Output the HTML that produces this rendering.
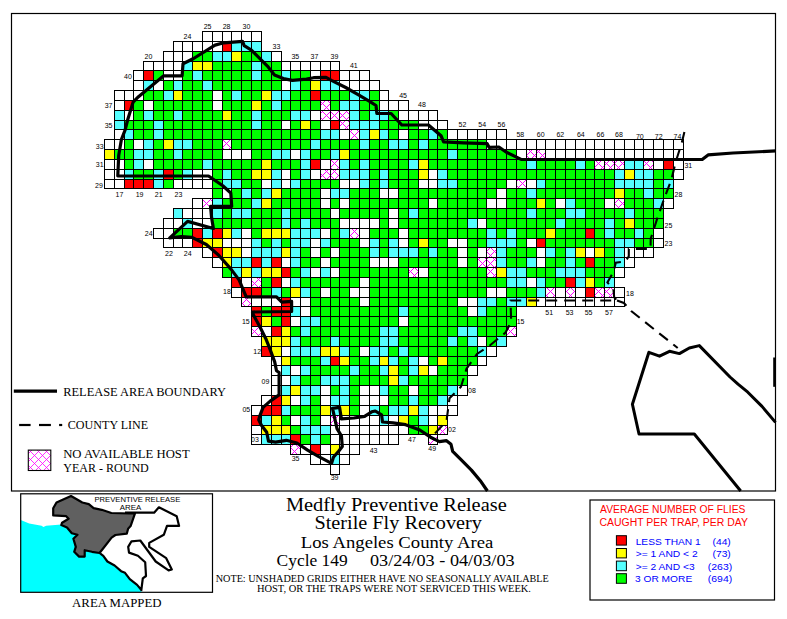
<!DOCTYPE html>
<html><head><meta charset="utf-8">
<style>
html,body{margin:0;padding:0;background:#fff;width:787px;height:619px;overflow:hidden}
svg{display:block}
.lb{font-family:"Liberation Sans",sans-serif;font-size:7px;text-anchor:middle;fill:#000}
.sr{font-family:"Liberation Serif",serif;fill:#000}
.ss{font-family:"Liberation Sans",sans-serif}
</style></head><body>
<svg width="787" height="619" viewBox="0 0 787 619">
<defs>
<clipPath id="hatchclip"><rect x="28.3" y="450.1" width="22.5" height="20.4"/></clipPath>
</defs>
<rect x="0" y="0" width="787" height="619" fill="#fff"/>
<g shape-rendering="crispEdges">
<rect x="222.18" y="41.34" width="9.807" height="9.838" fill="#ff0000"/>
<rect x="231.99" y="41.34" width="9.807" height="9.838" fill="#55ffff"/>
<rect x="241.80" y="41.34" width="9.807" height="9.838" fill="#55ffff"/>
<rect x="251.61" y="41.34" width="9.807" height="9.838" fill="#55ffff"/>
<rect x="192.76" y="51.18" width="9.807" height="9.838" fill="#00ff00"/>
<rect x="202.57" y="51.18" width="9.807" height="9.838" fill="#00ff00"/>
<rect x="212.38" y="51.18" width="9.807" height="9.838" fill="#55ffff"/>
<rect x="222.18" y="51.18" width="9.807" height="9.838" fill="#55ffff"/>
<rect x="231.99" y="51.18" width="9.807" height="9.838" fill="#ffff00"/>
<rect x="241.80" y="51.18" width="9.807" height="9.838" fill="#00ff00"/>
<rect x="251.61" y="51.18" width="9.807" height="9.838" fill="#00ff00"/>
<rect x="261.41" y="51.18" width="9.807" height="9.838" fill="#55ffff"/>
<rect x="182.96" y="61.01" width="9.807" height="9.838" fill="#55ffff"/>
<rect x="192.76" y="61.01" width="9.807" height="9.838" fill="#ffff00"/>
<rect x="202.57" y="61.01" width="9.807" height="9.838" fill="#ffff00"/>
<rect x="212.38" y="61.01" width="9.807" height="9.838" fill="#00ff00"/>
<rect x="222.18" y="61.01" width="9.807" height="9.838" fill="#00ff00"/>
<rect x="231.99" y="61.01" width="9.807" height="9.838" fill="#00ff00"/>
<rect x="241.80" y="61.01" width="9.807" height="9.838" fill="#00ff00"/>
<rect x="251.61" y="61.01" width="9.807" height="9.838" fill="#55ffff"/>
<rect x="261.41" y="61.01" width="9.807" height="9.838" fill="#00ff00"/>
<rect x="271.22" y="61.01" width="9.807" height="9.838" fill="#00ff00"/>
<rect x="143.73" y="70.85" width="9.807" height="9.838" fill="#ff0000"/>
<rect x="153.53" y="70.85" width="9.807" height="9.838" fill="#00ff00"/>
<rect x="182.96" y="70.85" width="9.807" height="9.838" fill="#00ff00"/>
<rect x="192.76" y="70.85" width="9.807" height="9.838" fill="#55ffff"/>
<rect x="202.57" y="70.85" width="9.807" height="9.838" fill="#00ff00"/>
<rect x="212.38" y="70.85" width="9.807" height="9.838" fill="#00ff00"/>
<rect x="222.18" y="70.85" width="9.807" height="9.838" fill="#00ff00"/>
<rect x="231.99" y="70.85" width="9.807" height="9.838" fill="#00ff00"/>
<rect x="241.80" y="70.85" width="9.807" height="9.838" fill="#00ff00"/>
<rect x="251.61" y="70.85" width="9.807" height="9.838" fill="#55ffff"/>
<rect x="261.41" y="70.85" width="9.807" height="9.838" fill="#00ff00"/>
<rect x="271.22" y="70.85" width="9.807" height="9.838" fill="#00ff00"/>
<rect x="281.03" y="70.85" width="9.807" height="9.838" fill="#55ffff"/>
<rect x="290.83" y="70.85" width="9.807" height="9.838" fill="#00ff00"/>
<rect x="300.64" y="70.85" width="9.807" height="9.838" fill="#00ff00"/>
<rect x="320.25" y="70.85" width="9.807" height="9.838" fill="#ff0000"/>
<rect x="330.06" y="70.85" width="9.807" height="9.838" fill="#ff0000"/>
<rect x="143.73" y="80.69" width="9.807" height="9.838" fill="#55ffff"/>
<rect x="163.34" y="80.69" width="9.807" height="9.838" fill="#00ff00"/>
<rect x="173.15" y="80.69" width="9.807" height="9.838" fill="#55ffff"/>
<rect x="182.96" y="80.69" width="9.807" height="9.838" fill="#00ff00"/>
<rect x="192.76" y="80.69" width="9.807" height="9.838" fill="#00ff00"/>
<rect x="202.57" y="80.69" width="9.807" height="9.838" fill="#55ffff"/>
<rect x="212.38" y="80.69" width="9.807" height="9.838" fill="#00ff00"/>
<rect x="222.18" y="80.69" width="9.807" height="9.838" fill="#00ff00"/>
<rect x="231.99" y="80.69" width="9.807" height="9.838" fill="#00ff00"/>
<rect x="241.80" y="80.69" width="9.807" height="9.838" fill="#00ff00"/>
<rect x="251.61" y="80.69" width="9.807" height="9.838" fill="#00ff00"/>
<rect x="261.41" y="80.69" width="9.807" height="9.838" fill="#00ff00"/>
<rect x="271.22" y="80.69" width="9.807" height="9.838" fill="#00ff00"/>
<rect x="290.83" y="80.69" width="9.807" height="9.838" fill="#55ffff"/>
<rect x="300.64" y="80.69" width="9.807" height="9.838" fill="#00ff00"/>
<rect x="310.45" y="80.69" width="9.807" height="9.838" fill="#ffff00"/>
<rect x="320.25" y="80.69" width="9.807" height="9.838" fill="#55ffff"/>
<rect x="330.06" y="80.69" width="9.807" height="9.838" fill="#55ffff"/>
<rect x="143.73" y="90.53" width="9.807" height="9.838" fill="#00ff00"/>
<rect x="153.53" y="90.53" width="9.807" height="9.838" fill="#00ff00"/>
<rect x="163.34" y="90.53" width="9.807" height="9.838" fill="#55ffff"/>
<rect x="173.15" y="90.53" width="9.807" height="9.838" fill="#ffff00"/>
<rect x="182.96" y="90.53" width="9.807" height="9.838" fill="#00ff00"/>
<rect x="192.76" y="90.53" width="9.807" height="9.838" fill="#00ff00"/>
<rect x="202.57" y="90.53" width="9.807" height="9.838" fill="#00ff00"/>
<rect x="222.18" y="90.53" width="9.807" height="9.838" fill="#00ff00"/>
<rect x="231.99" y="90.53" width="9.807" height="9.838" fill="#55ffff"/>
<rect x="241.80" y="90.53" width="9.807" height="9.838" fill="#00ff00"/>
<rect x="251.61" y="90.53" width="9.807" height="9.838" fill="#00ff00"/>
<rect x="261.41" y="90.53" width="9.807" height="9.838" fill="#ffff00"/>
<rect x="271.22" y="90.53" width="9.807" height="9.838" fill="#55ffff"/>
<rect x="281.03" y="90.53" width="9.807" height="9.838" fill="#55ffff"/>
<rect x="290.83" y="90.53" width="9.807" height="9.838" fill="#00ff00"/>
<rect x="300.64" y="90.53" width="9.807" height="9.838" fill="#00ff00"/>
<rect x="310.45" y="90.53" width="9.807" height="9.838" fill="#ff0000"/>
<rect x="320.25" y="90.53" width="9.807" height="9.838" fill="#00ff00"/>
<rect x="330.06" y="90.53" width="9.807" height="9.838" fill="#00ff00"/>
<rect x="339.87" y="90.53" width="9.807" height="9.838" fill="#00ff00"/>
<rect x="349.68" y="90.53" width="9.807" height="9.838" fill="#55ffff"/>
<rect x="359.48" y="90.53" width="9.807" height="9.838" fill="#55ffff"/>
<rect x="369.29" y="90.53" width="9.807" height="9.838" fill="#00ff00"/>
<rect x="124.11" y="100.37" width="9.807" height="9.838" fill="#ff0000"/>
<rect x="133.92" y="100.37" width="9.807" height="9.838" fill="#00ff00"/>
<rect x="153.53" y="100.37" width="9.807" height="9.838" fill="#00ff00"/>
<rect x="163.34" y="100.37" width="9.807" height="9.838" fill="#00ff00"/>
<rect x="173.15" y="100.37" width="9.807" height="9.838" fill="#00ff00"/>
<rect x="182.96" y="100.37" width="9.807" height="9.838" fill="#00ff00"/>
<rect x="192.76" y="100.37" width="9.807" height="9.838" fill="#00ff00"/>
<rect x="202.57" y="100.37" width="9.807" height="9.838" fill="#00ff00"/>
<rect x="222.18" y="100.37" width="9.807" height="9.838" fill="#00ff00"/>
<rect x="231.99" y="100.37" width="9.807" height="9.838" fill="#00ff00"/>
<rect x="241.80" y="100.37" width="9.807" height="9.838" fill="#00ff00"/>
<rect x="251.61" y="100.37" width="9.807" height="9.838" fill="#ffff00"/>
<rect x="261.41" y="100.37" width="9.807" height="9.838" fill="#00ff00"/>
<rect x="271.22" y="100.37" width="9.807" height="9.838" fill="#55ffff"/>
<rect x="281.03" y="100.37" width="9.807" height="9.838" fill="#00ff00"/>
<rect x="290.83" y="100.37" width="9.807" height="9.838" fill="#00ff00"/>
<rect x="300.64" y="100.37" width="9.807" height="9.838" fill="#00ff00"/>
<rect x="310.45" y="100.37" width="9.807" height="9.838" fill="#00ff00"/>
<rect x="320.25" y="100.37" width="9.807" height="9.838" fill="#ffffff"/>
<rect x="330.06" y="100.37" width="9.807" height="9.838" fill="#00ff00"/>
<rect x="339.87" y="100.37" width="9.807" height="9.838" fill="#55ffff"/>
<rect x="349.68" y="100.37" width="9.807" height="9.838" fill="#55ffff"/>
<rect x="359.48" y="100.37" width="9.807" height="9.838" fill="#00ff00"/>
<rect x="369.29" y="100.37" width="9.807" height="9.838" fill="#00ff00"/>
<rect x="114.31" y="110.20" width="9.807" height="9.838" fill="#55ffff"/>
<rect x="133.92" y="110.20" width="9.807" height="9.838" fill="#00ff00"/>
<rect x="143.73" y="110.20" width="9.807" height="9.838" fill="#55ffff"/>
<rect x="153.53" y="110.20" width="9.807" height="9.838" fill="#00ff00"/>
<rect x="163.34" y="110.20" width="9.807" height="9.838" fill="#00ff00"/>
<rect x="173.15" y="110.20" width="9.807" height="9.838" fill="#55ffff"/>
<rect x="182.96" y="110.20" width="9.807" height="9.838" fill="#00ff00"/>
<rect x="192.76" y="110.20" width="9.807" height="9.838" fill="#00ff00"/>
<rect x="202.57" y="110.20" width="9.807" height="9.838" fill="#00ff00"/>
<rect x="212.38" y="110.20" width="9.807" height="9.838" fill="#00ff00"/>
<rect x="222.18" y="110.20" width="9.807" height="9.838" fill="#ffff00"/>
<rect x="231.99" y="110.20" width="9.807" height="9.838" fill="#00ff00"/>
<rect x="241.80" y="110.20" width="9.807" height="9.838" fill="#00ff00"/>
<rect x="251.61" y="110.20" width="9.807" height="9.838" fill="#55ffff"/>
<rect x="261.41" y="110.20" width="9.807" height="9.838" fill="#00ff00"/>
<rect x="271.22" y="110.20" width="9.807" height="9.838" fill="#00ff00"/>
<rect x="281.03" y="110.20" width="9.807" height="9.838" fill="#00ff00"/>
<rect x="290.83" y="110.20" width="9.807" height="9.838" fill="#55ffff"/>
<rect x="300.64" y="110.20" width="9.807" height="9.838" fill="#55ffff"/>
<rect x="320.25" y="110.20" width="9.807" height="9.838" fill="#ffffff"/>
<rect x="330.06" y="110.20" width="9.807" height="9.838" fill="#ffffff"/>
<rect x="339.87" y="110.20" width="9.807" height="9.838" fill="#ffffff"/>
<rect x="349.68" y="110.20" width="9.807" height="9.838" fill="#55ffff"/>
<rect x="359.48" y="110.20" width="9.807" height="9.838" fill="#00ff00"/>
<rect x="369.29" y="110.20" width="9.807" height="9.838" fill="#55ffff"/>
<rect x="379.10" y="110.20" width="9.807" height="9.838" fill="#55ffff"/>
<rect x="388.90" y="110.20" width="9.807" height="9.838" fill="#00ff00"/>
<rect x="114.31" y="120.04" width="9.807" height="9.838" fill="#55ffff"/>
<rect x="124.11" y="120.04" width="9.807" height="9.838" fill="#00ff00"/>
<rect x="133.92" y="120.04" width="9.807" height="9.838" fill="#00ff00"/>
<rect x="143.73" y="120.04" width="9.807" height="9.838" fill="#00ff00"/>
<rect x="153.53" y="120.04" width="9.807" height="9.838" fill="#55ffff"/>
<rect x="163.34" y="120.04" width="9.807" height="9.838" fill="#00ff00"/>
<rect x="173.15" y="120.04" width="9.807" height="9.838" fill="#00ff00"/>
<rect x="182.96" y="120.04" width="9.807" height="9.838" fill="#00ff00"/>
<rect x="192.76" y="120.04" width="9.807" height="9.838" fill="#00ff00"/>
<rect x="202.57" y="120.04" width="9.807" height="9.838" fill="#00ff00"/>
<rect x="212.38" y="120.04" width="9.807" height="9.838" fill="#00ff00"/>
<rect x="222.18" y="120.04" width="9.807" height="9.838" fill="#00ff00"/>
<rect x="231.99" y="120.04" width="9.807" height="9.838" fill="#00ff00"/>
<rect x="241.80" y="120.04" width="9.807" height="9.838" fill="#00ff00"/>
<rect x="251.61" y="120.04" width="9.807" height="9.838" fill="#55ffff"/>
<rect x="261.41" y="120.04" width="9.807" height="9.838" fill="#00ff00"/>
<rect x="271.22" y="120.04" width="9.807" height="9.838" fill="#00ff00"/>
<rect x="290.83" y="120.04" width="9.807" height="9.838" fill="#00ff00"/>
<rect x="300.64" y="120.04" width="9.807" height="9.838" fill="#ffff00"/>
<rect x="310.45" y="120.04" width="9.807" height="9.838" fill="#00ff00"/>
<rect x="330.06" y="120.04" width="9.807" height="9.838" fill="#ff0000"/>
<rect x="339.87" y="120.04" width="9.807" height="9.838" fill="#ffffff"/>
<rect x="349.68" y="120.04" width="9.807" height="9.838" fill="#55ffff"/>
<rect x="359.48" y="120.04" width="9.807" height="9.838" fill="#55ffff"/>
<rect x="369.29" y="120.04" width="9.807" height="9.838" fill="#55ffff"/>
<rect x="379.10" y="120.04" width="9.807" height="9.838" fill="#00ff00"/>
<rect x="388.90" y="120.04" width="9.807" height="9.838" fill="#00ff00"/>
<rect x="398.71" y="120.04" width="9.807" height="9.838" fill="#00ff00"/>
<rect x="408.52" y="120.04" width="9.807" height="9.838" fill="#00ff00"/>
<rect x="124.11" y="129.88" width="9.807" height="9.838" fill="#55ffff"/>
<rect x="133.92" y="129.88" width="9.807" height="9.838" fill="#00ff00"/>
<rect x="143.73" y="129.88" width="9.807" height="9.838" fill="#00ff00"/>
<rect x="153.53" y="129.88" width="9.807" height="9.838" fill="#55ffff"/>
<rect x="163.34" y="129.88" width="9.807" height="9.838" fill="#00ff00"/>
<rect x="173.15" y="129.88" width="9.807" height="9.838" fill="#00ff00"/>
<rect x="182.96" y="129.88" width="9.807" height="9.838" fill="#00ff00"/>
<rect x="192.76" y="129.88" width="9.807" height="9.838" fill="#00ff00"/>
<rect x="202.57" y="129.88" width="9.807" height="9.838" fill="#00ff00"/>
<rect x="212.38" y="129.88" width="9.807" height="9.838" fill="#00ff00"/>
<rect x="222.18" y="129.88" width="9.807" height="9.838" fill="#00ff00"/>
<rect x="231.99" y="129.88" width="9.807" height="9.838" fill="#00ff00"/>
<rect x="241.80" y="129.88" width="9.807" height="9.838" fill="#00ff00"/>
<rect x="251.61" y="129.88" width="9.807" height="9.838" fill="#00ff00"/>
<rect x="261.41" y="129.88" width="9.807" height="9.838" fill="#00ff00"/>
<rect x="271.22" y="129.88" width="9.807" height="9.838" fill="#00ff00"/>
<rect x="281.03" y="129.88" width="9.807" height="9.838" fill="#00ff00"/>
<rect x="290.83" y="129.88" width="9.807" height="9.838" fill="#00ff00"/>
<rect x="300.64" y="129.88" width="9.807" height="9.838" fill="#00ff00"/>
<rect x="310.45" y="129.88" width="9.807" height="9.838" fill="#00ff00"/>
<rect x="320.25" y="129.88" width="9.807" height="9.838" fill="#55ffff"/>
<rect x="330.06" y="129.88" width="9.807" height="9.838" fill="#55ffff"/>
<rect x="349.68" y="129.88" width="9.807" height="9.838" fill="#ffffff"/>
<rect x="359.48" y="129.88" width="9.807" height="9.838" fill="#55ffff"/>
<rect x="369.29" y="129.88" width="9.807" height="9.838" fill="#ffff00"/>
<rect x="379.10" y="129.88" width="9.807" height="9.838" fill="#55ffff"/>
<rect x="388.90" y="129.88" width="9.807" height="9.838" fill="#00ff00"/>
<rect x="408.52" y="129.88" width="9.807" height="9.838" fill="#00ff00"/>
<rect x="418.32" y="129.88" width="9.807" height="9.838" fill="#00ff00"/>
<rect x="428.13" y="129.88" width="9.807" height="9.838" fill="#55ffff"/>
<rect x="437.94" y="129.88" width="9.807" height="9.838" fill="#00ff00"/>
<rect x="124.11" y="139.72" width="9.807" height="9.838" fill="#00ff00"/>
<rect x="143.73" y="139.72" width="9.807" height="9.838" fill="#55ffff"/>
<rect x="153.53" y="139.72" width="9.807" height="9.838" fill="#00ff00"/>
<rect x="163.34" y="139.72" width="9.807" height="9.838" fill="#ffff00"/>
<rect x="173.15" y="139.72" width="9.807" height="9.838" fill="#55ffff"/>
<rect x="182.96" y="139.72" width="9.807" height="9.838" fill="#55ffff"/>
<rect x="192.76" y="139.72" width="9.807" height="9.838" fill="#00ff00"/>
<rect x="202.57" y="139.72" width="9.807" height="9.838" fill="#00ff00"/>
<rect x="212.38" y="139.72" width="9.807" height="9.838" fill="#00ff00"/>
<rect x="222.18" y="139.72" width="9.807" height="9.838" fill="#ffffff"/>
<rect x="231.99" y="139.72" width="9.807" height="9.838" fill="#00ff00"/>
<rect x="241.80" y="139.72" width="9.807" height="9.838" fill="#00ff00"/>
<rect x="251.61" y="139.72" width="9.807" height="9.838" fill="#00ff00"/>
<rect x="261.41" y="139.72" width="9.807" height="9.838" fill="#00ff00"/>
<rect x="271.22" y="139.72" width="9.807" height="9.838" fill="#00ff00"/>
<rect x="281.03" y="139.72" width="9.807" height="9.838" fill="#00ff00"/>
<rect x="290.83" y="139.72" width="9.807" height="9.838" fill="#00ff00"/>
<rect x="300.64" y="139.72" width="9.807" height="9.838" fill="#00ff00"/>
<rect x="310.45" y="139.72" width="9.807" height="9.838" fill="#55ffff"/>
<rect x="320.25" y="139.72" width="9.807" height="9.838" fill="#00ff00"/>
<rect x="330.06" y="139.72" width="9.807" height="9.838" fill="#00ff00"/>
<rect x="339.87" y="139.72" width="9.807" height="9.838" fill="#00ff00"/>
<rect x="349.68" y="139.72" width="9.807" height="9.838" fill="#00ff00"/>
<rect x="359.48" y="139.72" width="9.807" height="9.838" fill="#55ffff"/>
<rect x="369.29" y="139.72" width="9.807" height="9.838" fill="#00ff00"/>
<rect x="379.10" y="139.72" width="9.807" height="9.838" fill="#00ff00"/>
<rect x="388.90" y="139.72" width="9.807" height="9.838" fill="#55ffff"/>
<rect x="398.71" y="139.72" width="9.807" height="9.838" fill="#55ffff"/>
<rect x="408.52" y="139.72" width="9.807" height="9.838" fill="#00ff00"/>
<rect x="418.32" y="139.72" width="9.807" height="9.838" fill="#55ffff"/>
<rect x="428.13" y="139.72" width="9.807" height="9.838" fill="#00ff00"/>
<rect x="437.94" y="139.72" width="9.807" height="9.838" fill="#00ff00"/>
<rect x="447.75" y="139.72" width="9.807" height="9.838" fill="#00ff00"/>
<rect x="457.55" y="139.72" width="9.807" height="9.838" fill="#00ff00"/>
<rect x="467.36" y="139.72" width="9.807" height="9.838" fill="#00ff00"/>
<rect x="477.17" y="139.72" width="9.807" height="9.838" fill="#00ff00"/>
<rect x="104.50" y="149.56" width="9.807" height="9.838" fill="#ffff00"/>
<rect x="114.31" y="149.56" width="9.807" height="9.838" fill="#00ff00"/>
<rect x="124.11" y="149.56" width="9.807" height="9.838" fill="#00ff00"/>
<rect x="133.92" y="149.56" width="9.807" height="9.838" fill="#55ffff"/>
<rect x="143.73" y="149.56" width="9.807" height="9.838" fill="#55ffff"/>
<rect x="153.53" y="149.56" width="9.807" height="9.838" fill="#00ff00"/>
<rect x="163.34" y="149.56" width="9.807" height="9.838" fill="#00ff00"/>
<rect x="173.15" y="149.56" width="9.807" height="9.838" fill="#55ffff"/>
<rect x="182.96" y="149.56" width="9.807" height="9.838" fill="#00ff00"/>
<rect x="192.76" y="149.56" width="9.807" height="9.838" fill="#00ff00"/>
<rect x="202.57" y="149.56" width="9.807" height="9.838" fill="#00ff00"/>
<rect x="212.38" y="149.56" width="9.807" height="9.838" fill="#00ff00"/>
<rect x="251.61" y="149.56" width="9.807" height="9.838" fill="#00ff00"/>
<rect x="261.41" y="149.56" width="9.807" height="9.838" fill="#00ff00"/>
<rect x="271.22" y="149.56" width="9.807" height="9.838" fill="#55ffff"/>
<rect x="281.03" y="149.56" width="9.807" height="9.838" fill="#55ffff"/>
<rect x="300.64" y="149.56" width="9.807" height="9.838" fill="#55ffff"/>
<rect x="310.45" y="149.56" width="9.807" height="9.838" fill="#00ff00"/>
<rect x="320.25" y="149.56" width="9.807" height="9.838" fill="#00ff00"/>
<rect x="330.06" y="149.56" width="9.807" height="9.838" fill="#55ffff"/>
<rect x="339.87" y="149.56" width="9.807" height="9.838" fill="#ffff00"/>
<rect x="349.68" y="149.56" width="9.807" height="9.838" fill="#00ff00"/>
<rect x="359.48" y="149.56" width="9.807" height="9.838" fill="#00ff00"/>
<rect x="369.29" y="149.56" width="9.807" height="9.838" fill="#00ff00"/>
<rect x="379.10" y="149.56" width="9.807" height="9.838" fill="#00ff00"/>
<rect x="388.90" y="149.56" width="9.807" height="9.838" fill="#00ff00"/>
<rect x="398.71" y="149.56" width="9.807" height="9.838" fill="#00ff00"/>
<rect x="408.52" y="149.56" width="9.807" height="9.838" fill="#00ff00"/>
<rect x="418.32" y="149.56" width="9.807" height="9.838" fill="#00ff00"/>
<rect x="428.13" y="149.56" width="9.807" height="9.838" fill="#00ff00"/>
<rect x="437.94" y="149.56" width="9.807" height="9.838" fill="#00ff00"/>
<rect x="447.75" y="149.56" width="9.807" height="9.838" fill="#55ffff"/>
<rect x="457.55" y="149.56" width="9.807" height="9.838" fill="#00ff00"/>
<rect x="467.36" y="149.56" width="9.807" height="9.838" fill="#00ff00"/>
<rect x="477.17" y="149.56" width="9.807" height="9.838" fill="#00ff00"/>
<rect x="486.97" y="149.56" width="9.807" height="9.838" fill="#00ff00"/>
<rect x="496.78" y="149.56" width="9.807" height="9.838" fill="#00ff00"/>
<rect x="506.59" y="149.56" width="9.807" height="9.838" fill="#00ff00"/>
<rect x="526.20" y="149.56" width="9.807" height="9.838" fill="#ffffff"/>
<rect x="536.01" y="149.56" width="9.807" height="9.838" fill="#ffffff"/>
<rect x="124.11" y="159.39" width="9.807" height="9.838" fill="#00ff00"/>
<rect x="133.92" y="159.39" width="9.807" height="9.838" fill="#55ffff"/>
<rect x="153.53" y="159.39" width="9.807" height="9.838" fill="#00ff00"/>
<rect x="163.34" y="159.39" width="9.807" height="9.838" fill="#00ff00"/>
<rect x="173.15" y="159.39" width="9.807" height="9.838" fill="#00ff00"/>
<rect x="182.96" y="159.39" width="9.807" height="9.838" fill="#00ff00"/>
<rect x="192.76" y="159.39" width="9.807" height="9.838" fill="#00ff00"/>
<rect x="202.57" y="159.39" width="9.807" height="9.838" fill="#55ffff"/>
<rect x="212.38" y="159.39" width="9.807" height="9.838" fill="#00ff00"/>
<rect x="222.18" y="159.39" width="9.807" height="9.838" fill="#00ff00"/>
<rect x="231.99" y="159.39" width="9.807" height="9.838" fill="#00ff00"/>
<rect x="241.80" y="159.39" width="9.807" height="9.838" fill="#00ff00"/>
<rect x="251.61" y="159.39" width="9.807" height="9.838" fill="#00ff00"/>
<rect x="261.41" y="159.39" width="9.807" height="9.838" fill="#ffff00"/>
<rect x="271.22" y="159.39" width="9.807" height="9.838" fill="#00ff00"/>
<rect x="281.03" y="159.39" width="9.807" height="9.838" fill="#00ff00"/>
<rect x="290.83" y="159.39" width="9.807" height="9.838" fill="#00ff00"/>
<rect x="300.64" y="159.39" width="9.807" height="9.838" fill="#55ffff"/>
<rect x="310.45" y="159.39" width="9.807" height="9.838" fill="#ff0000"/>
<rect x="330.06" y="159.39" width="9.807" height="9.838" fill="#ffffff"/>
<rect x="339.87" y="159.39" width="9.807" height="9.838" fill="#55ffff"/>
<rect x="349.68" y="159.39" width="9.807" height="9.838" fill="#00ff00"/>
<rect x="359.48" y="159.39" width="9.807" height="9.838" fill="#55ffff"/>
<rect x="369.29" y="159.39" width="9.807" height="9.838" fill="#00ff00"/>
<rect x="379.10" y="159.39" width="9.807" height="9.838" fill="#00ff00"/>
<rect x="388.90" y="159.39" width="9.807" height="9.838" fill="#00ff00"/>
<rect x="398.71" y="159.39" width="9.807" height="9.838" fill="#00ff00"/>
<rect x="408.52" y="159.39" width="9.807" height="9.838" fill="#55ffff"/>
<rect x="418.32" y="159.39" width="9.807" height="9.838" fill="#ffff00"/>
<rect x="428.13" y="159.39" width="9.807" height="9.838" fill="#00ff00"/>
<rect x="437.94" y="159.39" width="9.807" height="9.838" fill="#00ff00"/>
<rect x="447.75" y="159.39" width="9.807" height="9.838" fill="#00ff00"/>
<rect x="457.55" y="159.39" width="9.807" height="9.838" fill="#00ff00"/>
<rect x="467.36" y="159.39" width="9.807" height="9.838" fill="#00ff00"/>
<rect x="477.17" y="159.39" width="9.807" height="9.838" fill="#00ff00"/>
<rect x="486.97" y="159.39" width="9.807" height="9.838" fill="#00ff00"/>
<rect x="496.78" y="159.39" width="9.807" height="9.838" fill="#00ff00"/>
<rect x="506.59" y="159.39" width="9.807" height="9.838" fill="#00ff00"/>
<rect x="516.39" y="159.39" width="9.807" height="9.838" fill="#00ff00"/>
<rect x="526.20" y="159.39" width="9.807" height="9.838" fill="#55ffff"/>
<rect x="536.01" y="159.39" width="9.807" height="9.838" fill="#00ff00"/>
<rect x="545.82" y="159.39" width="9.807" height="9.838" fill="#00ff00"/>
<rect x="555.62" y="159.39" width="9.807" height="9.838" fill="#00ff00"/>
<rect x="565.43" y="159.39" width="9.807" height="9.838" fill="#00ff00"/>
<rect x="575.24" y="159.39" width="9.807" height="9.838" fill="#55ffff"/>
<rect x="585.04" y="159.39" width="9.807" height="9.838" fill="#00ff00"/>
<rect x="594.85" y="159.39" width="9.807" height="9.838" fill="#ffffff"/>
<rect x="604.66" y="159.39" width="9.807" height="9.838" fill="#ffffff"/>
<rect x="614.46" y="159.39" width="9.807" height="9.838" fill="#ffffff"/>
<rect x="624.27" y="159.39" width="9.807" height="9.838" fill="#55ffff"/>
<rect x="634.08" y="159.39" width="9.807" height="9.838" fill="#55ffff"/>
<rect x="643.88" y="159.39" width="9.807" height="9.838" fill="#ffffff"/>
<rect x="663.50" y="159.39" width="9.807" height="9.838" fill="#ff0000"/>
<rect x="124.11" y="169.23" width="9.807" height="9.838" fill="#55ffff"/>
<rect x="133.92" y="169.23" width="9.807" height="9.838" fill="#00ff00"/>
<rect x="143.73" y="169.23" width="9.807" height="9.838" fill="#00ff00"/>
<rect x="153.53" y="169.23" width="9.807" height="9.838" fill="#55ffff"/>
<rect x="163.34" y="169.23" width="9.807" height="9.838" fill="#ff0000"/>
<rect x="173.15" y="169.23" width="9.807" height="9.838" fill="#00ff00"/>
<rect x="182.96" y="169.23" width="9.807" height="9.838" fill="#55ffff"/>
<rect x="212.38" y="169.23" width="9.807" height="9.838" fill="#00ff00"/>
<rect x="222.18" y="169.23" width="9.807" height="9.838" fill="#55ffff"/>
<rect x="231.99" y="169.23" width="9.807" height="9.838" fill="#00ff00"/>
<rect x="241.80" y="169.23" width="9.807" height="9.838" fill="#00ff00"/>
<rect x="251.61" y="169.23" width="9.807" height="9.838" fill="#ffff00"/>
<rect x="261.41" y="169.23" width="9.807" height="9.838" fill="#ffff00"/>
<rect x="271.22" y="169.23" width="9.807" height="9.838" fill="#55ffff"/>
<rect x="290.83" y="169.23" width="9.807" height="9.838" fill="#00ff00"/>
<rect x="300.64" y="169.23" width="9.807" height="9.838" fill="#55ffff"/>
<rect x="320.25" y="169.23" width="9.807" height="9.838" fill="#ffffff"/>
<rect x="330.06" y="169.23" width="9.807" height="9.838" fill="#ffffff"/>
<rect x="339.87" y="169.23" width="9.807" height="9.838" fill="#55ffff"/>
<rect x="349.68" y="169.23" width="9.807" height="9.838" fill="#55ffff"/>
<rect x="359.48" y="169.23" width="9.807" height="9.838" fill="#55ffff"/>
<rect x="369.29" y="169.23" width="9.807" height="9.838" fill="#00ff00"/>
<rect x="379.10" y="169.23" width="9.807" height="9.838" fill="#55ffff"/>
<rect x="388.90" y="169.23" width="9.807" height="9.838" fill="#00ff00"/>
<rect x="398.71" y="169.23" width="9.807" height="9.838" fill="#00ff00"/>
<rect x="408.52" y="169.23" width="9.807" height="9.838" fill="#00ff00"/>
<rect x="418.32" y="169.23" width="9.807" height="9.838" fill="#ffff00"/>
<rect x="437.94" y="169.23" width="9.807" height="9.838" fill="#55ffff"/>
<rect x="447.75" y="169.23" width="9.807" height="9.838" fill="#00ff00"/>
<rect x="457.55" y="169.23" width="9.807" height="9.838" fill="#00ff00"/>
<rect x="467.36" y="169.23" width="9.807" height="9.838" fill="#00ff00"/>
<rect x="477.17" y="169.23" width="9.807" height="9.838" fill="#00ff00"/>
<rect x="486.97" y="169.23" width="9.807" height="9.838" fill="#00ff00"/>
<rect x="496.78" y="169.23" width="9.807" height="9.838" fill="#00ff00"/>
<rect x="506.59" y="169.23" width="9.807" height="9.838" fill="#00ff00"/>
<rect x="516.39" y="169.23" width="9.807" height="9.838" fill="#00ff00"/>
<rect x="526.20" y="169.23" width="9.807" height="9.838" fill="#00ff00"/>
<rect x="536.01" y="169.23" width="9.807" height="9.838" fill="#00ff00"/>
<rect x="545.82" y="169.23" width="9.807" height="9.838" fill="#00ff00"/>
<rect x="555.62" y="169.23" width="9.807" height="9.838" fill="#00ff00"/>
<rect x="565.43" y="169.23" width="9.807" height="9.838" fill="#00ff00"/>
<rect x="575.24" y="169.23" width="9.807" height="9.838" fill="#00ff00"/>
<rect x="585.04" y="169.23" width="9.807" height="9.838" fill="#00ff00"/>
<rect x="594.85" y="169.23" width="9.807" height="9.838" fill="#00ff00"/>
<rect x="604.66" y="169.23" width="9.807" height="9.838" fill="#00ff00"/>
<rect x="614.46" y="169.23" width="9.807" height="9.838" fill="#55ffff"/>
<rect x="624.27" y="169.23" width="9.807" height="9.838" fill="#ffff00"/>
<rect x="634.08" y="169.23" width="9.807" height="9.838" fill="#55ffff"/>
<rect x="643.88" y="169.23" width="9.807" height="9.838" fill="#55ffff"/>
<rect x="653.69" y="169.23" width="9.807" height="9.838" fill="#00ff00"/>
<rect x="663.50" y="169.23" width="9.807" height="9.838" fill="#00ff00"/>
<rect x="124.11" y="179.07" width="9.807" height="9.838" fill="#ff0000"/>
<rect x="133.92" y="179.07" width="9.807" height="9.838" fill="#ff0000"/>
<rect x="143.73" y="179.07" width="9.807" height="9.838" fill="#ff0000"/>
<rect x="153.53" y="179.07" width="9.807" height="9.838" fill="#55ffff"/>
<rect x="163.34" y="179.07" width="9.807" height="9.838" fill="#00ff00"/>
<rect x="212.38" y="179.07" width="9.807" height="9.838" fill="#00ff00"/>
<rect x="222.18" y="179.07" width="9.807" height="9.838" fill="#55ffff"/>
<rect x="231.99" y="179.07" width="9.807" height="9.838" fill="#55ffff"/>
<rect x="241.80" y="179.07" width="9.807" height="9.838" fill="#00ff00"/>
<rect x="251.61" y="179.07" width="9.807" height="9.838" fill="#00ff00"/>
<rect x="271.22" y="179.07" width="9.807" height="9.838" fill="#55ffff"/>
<rect x="290.83" y="179.07" width="9.807" height="9.838" fill="#55ffff"/>
<rect x="300.64" y="179.07" width="9.807" height="9.838" fill="#00ff00"/>
<rect x="310.45" y="179.07" width="9.807" height="9.838" fill="#00ff00"/>
<rect x="320.25" y="179.07" width="9.807" height="9.838" fill="#00ff00"/>
<rect x="330.06" y="179.07" width="9.807" height="9.838" fill="#00ff00"/>
<rect x="359.48" y="179.07" width="9.807" height="9.838" fill="#55ffff"/>
<rect x="369.29" y="179.07" width="9.807" height="9.838" fill="#00ff00"/>
<rect x="379.10" y="179.07" width="9.807" height="9.838" fill="#55ffff"/>
<rect x="388.90" y="179.07" width="9.807" height="9.838" fill="#00ff00"/>
<rect x="398.71" y="179.07" width="9.807" height="9.838" fill="#00ff00"/>
<rect x="408.52" y="179.07" width="9.807" height="9.838" fill="#00ff00"/>
<rect x="437.94" y="179.07" width="9.807" height="9.838" fill="#55ffff"/>
<rect x="447.75" y="179.07" width="9.807" height="9.838" fill="#55ffff"/>
<rect x="457.55" y="179.07" width="9.807" height="9.838" fill="#00ff00"/>
<rect x="467.36" y="179.07" width="9.807" height="9.838" fill="#00ff00"/>
<rect x="477.17" y="179.07" width="9.807" height="9.838" fill="#00ff00"/>
<rect x="486.97" y="179.07" width="9.807" height="9.838" fill="#00ff00"/>
<rect x="496.78" y="179.07" width="9.807" height="9.838" fill="#00ff00"/>
<rect x="516.39" y="179.07" width="9.807" height="9.838" fill="#ffffff"/>
<rect x="536.01" y="179.07" width="9.807" height="9.838" fill="#55ffff"/>
<rect x="545.82" y="179.07" width="9.807" height="9.838" fill="#00ff00"/>
<rect x="555.62" y="179.07" width="9.807" height="9.838" fill="#00ff00"/>
<rect x="565.43" y="179.07" width="9.807" height="9.838" fill="#00ff00"/>
<rect x="575.24" y="179.07" width="9.807" height="9.838" fill="#00ff00"/>
<rect x="585.04" y="179.07" width="9.807" height="9.838" fill="#00ff00"/>
<rect x="594.85" y="179.07" width="9.807" height="9.838" fill="#00ff00"/>
<rect x="604.66" y="179.07" width="9.807" height="9.838" fill="#00ff00"/>
<rect x="614.46" y="179.07" width="9.807" height="9.838" fill="#55ffff"/>
<rect x="624.27" y="179.07" width="9.807" height="9.838" fill="#55ffff"/>
<rect x="634.08" y="179.07" width="9.807" height="9.838" fill="#55ffff"/>
<rect x="643.88" y="179.07" width="9.807" height="9.838" fill="#55ffff"/>
<rect x="653.69" y="179.07" width="9.807" height="9.838" fill="#00ff00"/>
<rect x="663.50" y="179.07" width="9.807" height="9.838" fill="#55ffff"/>
<rect x="212.38" y="188.91" width="9.807" height="9.838" fill="#00ff00"/>
<rect x="231.99" y="188.91" width="9.807" height="9.838" fill="#00ff00"/>
<rect x="241.80" y="188.91" width="9.807" height="9.838" fill="#55ffff"/>
<rect x="251.61" y="188.91" width="9.807" height="9.838" fill="#00ff00"/>
<rect x="261.41" y="188.91" width="9.807" height="9.838" fill="#55ffff"/>
<rect x="271.22" y="188.91" width="9.807" height="9.838" fill="#ffff00"/>
<rect x="281.03" y="188.91" width="9.807" height="9.838" fill="#00ff00"/>
<rect x="290.83" y="188.91" width="9.807" height="9.838" fill="#00ff00"/>
<rect x="300.64" y="188.91" width="9.807" height="9.838" fill="#00ff00"/>
<rect x="310.45" y="188.91" width="9.807" height="9.838" fill="#00ff00"/>
<rect x="330.06" y="188.91" width="9.807" height="9.838" fill="#55ffff"/>
<rect x="339.87" y="188.91" width="9.807" height="9.838" fill="#55ffff"/>
<rect x="349.68" y="188.91" width="9.807" height="9.838" fill="#00ff00"/>
<rect x="359.48" y="188.91" width="9.807" height="9.838" fill="#00ff00"/>
<rect x="369.29" y="188.91" width="9.807" height="9.838" fill="#00ff00"/>
<rect x="398.71" y="188.91" width="9.807" height="9.838" fill="#00ff00"/>
<rect x="408.52" y="188.91" width="9.807" height="9.838" fill="#00ff00"/>
<rect x="418.32" y="188.91" width="9.807" height="9.838" fill="#00ff00"/>
<rect x="428.13" y="188.91" width="9.807" height="9.838" fill="#00ff00"/>
<rect x="437.94" y="188.91" width="9.807" height="9.838" fill="#00ff00"/>
<rect x="447.75" y="188.91" width="9.807" height="9.838" fill="#00ff00"/>
<rect x="457.55" y="188.91" width="9.807" height="9.838" fill="#00ff00"/>
<rect x="467.36" y="188.91" width="9.807" height="9.838" fill="#00ff00"/>
<rect x="477.17" y="188.91" width="9.807" height="9.838" fill="#00ff00"/>
<rect x="486.97" y="188.91" width="9.807" height="9.838" fill="#00ff00"/>
<rect x="506.59" y="188.91" width="9.807" height="9.838" fill="#00ff00"/>
<rect x="516.39" y="188.91" width="9.807" height="9.838" fill="#00ff00"/>
<rect x="526.20" y="188.91" width="9.807" height="9.838" fill="#55ffff"/>
<rect x="536.01" y="188.91" width="9.807" height="9.838" fill="#00ff00"/>
<rect x="545.82" y="188.91" width="9.807" height="9.838" fill="#00ff00"/>
<rect x="555.62" y="188.91" width="9.807" height="9.838" fill="#00ff00"/>
<rect x="565.43" y="188.91" width="9.807" height="9.838" fill="#00ff00"/>
<rect x="575.24" y="188.91" width="9.807" height="9.838" fill="#00ff00"/>
<rect x="585.04" y="188.91" width="9.807" height="9.838" fill="#00ff00"/>
<rect x="594.85" y="188.91" width="9.807" height="9.838" fill="#00ff00"/>
<rect x="604.66" y="188.91" width="9.807" height="9.838" fill="#00ff00"/>
<rect x="614.46" y="188.91" width="9.807" height="9.838" fill="#ffff00"/>
<rect x="624.27" y="188.91" width="9.807" height="9.838" fill="#00ff00"/>
<rect x="634.08" y="188.91" width="9.807" height="9.838" fill="#00ff00"/>
<rect x="643.88" y="188.91" width="9.807" height="9.838" fill="#55ffff"/>
<rect x="653.69" y="188.91" width="9.807" height="9.838" fill="#00ff00"/>
<rect x="663.50" y="188.91" width="9.807" height="9.838" fill="#00ff00"/>
<rect x="202.57" y="198.75" width="9.807" height="9.838" fill="#ffffff"/>
<rect x="212.38" y="198.75" width="9.807" height="9.838" fill="#55ffff"/>
<rect x="222.18" y="198.75" width="9.807" height="9.838" fill="#00ff00"/>
<rect x="231.99" y="198.75" width="9.807" height="9.838" fill="#00ff00"/>
<rect x="241.80" y="198.75" width="9.807" height="9.838" fill="#00ff00"/>
<rect x="251.61" y="198.75" width="9.807" height="9.838" fill="#55ffff"/>
<rect x="261.41" y="198.75" width="9.807" height="9.838" fill="#ffff00"/>
<rect x="271.22" y="198.75" width="9.807" height="9.838" fill="#00ff00"/>
<rect x="281.03" y="198.75" width="9.807" height="9.838" fill="#00ff00"/>
<rect x="290.83" y="198.75" width="9.807" height="9.838" fill="#00ff00"/>
<rect x="300.64" y="198.75" width="9.807" height="9.838" fill="#00ff00"/>
<rect x="310.45" y="198.75" width="9.807" height="9.838" fill="#00ff00"/>
<rect x="330.06" y="198.75" width="9.807" height="9.838" fill="#00ff00"/>
<rect x="349.68" y="198.75" width="9.807" height="9.838" fill="#00ff00"/>
<rect x="359.48" y="198.75" width="9.807" height="9.838" fill="#00ff00"/>
<rect x="369.29" y="198.75" width="9.807" height="9.838" fill="#00ff00"/>
<rect x="379.10" y="198.75" width="9.807" height="9.838" fill="#00ff00"/>
<rect x="388.90" y="198.75" width="9.807" height="9.838" fill="#00ff00"/>
<rect x="398.71" y="198.75" width="9.807" height="9.838" fill="#00ff00"/>
<rect x="408.52" y="198.75" width="9.807" height="9.838" fill="#00ff00"/>
<rect x="418.32" y="198.75" width="9.807" height="9.838" fill="#00ff00"/>
<rect x="437.94" y="198.75" width="9.807" height="9.838" fill="#00ff00"/>
<rect x="447.75" y="198.75" width="9.807" height="9.838" fill="#00ff00"/>
<rect x="457.55" y="198.75" width="9.807" height="9.838" fill="#00ff00"/>
<rect x="467.36" y="198.75" width="9.807" height="9.838" fill="#00ff00"/>
<rect x="477.17" y="198.75" width="9.807" height="9.838" fill="#00ff00"/>
<rect x="506.59" y="198.75" width="9.807" height="9.838" fill="#00ff00"/>
<rect x="516.39" y="198.75" width="9.807" height="9.838" fill="#00ff00"/>
<rect x="526.20" y="198.75" width="9.807" height="9.838" fill="#00ff00"/>
<rect x="536.01" y="198.75" width="9.807" height="9.838" fill="#ffff00"/>
<rect x="545.82" y="198.75" width="9.807" height="9.838" fill="#00ff00"/>
<rect x="565.43" y="198.75" width="9.807" height="9.838" fill="#55ffff"/>
<rect x="575.24" y="198.75" width="9.807" height="9.838" fill="#00ff00"/>
<rect x="585.04" y="198.75" width="9.807" height="9.838" fill="#00ff00"/>
<rect x="594.85" y="198.75" width="9.807" height="9.838" fill="#00ff00"/>
<rect x="614.46" y="198.75" width="9.807" height="9.838" fill="#ffffff"/>
<rect x="624.27" y="198.75" width="9.807" height="9.838" fill="#00ff00"/>
<rect x="634.08" y="198.75" width="9.807" height="9.838" fill="#00ff00"/>
<rect x="643.88" y="198.75" width="9.807" height="9.838" fill="#00ff00"/>
<rect x="653.69" y="198.75" width="9.807" height="9.838" fill="#55ffff"/>
<rect x="173.15" y="208.58" width="9.807" height="9.838" fill="#55ffff"/>
<rect x="212.38" y="208.58" width="9.807" height="9.838" fill="#55ffff"/>
<rect x="222.18" y="208.58" width="9.807" height="9.838" fill="#00ff00"/>
<rect x="231.99" y="208.58" width="9.807" height="9.838" fill="#55ffff"/>
<rect x="241.80" y="208.58" width="9.807" height="9.838" fill="#55ffff"/>
<rect x="251.61" y="208.58" width="9.807" height="9.838" fill="#00ff00"/>
<rect x="261.41" y="208.58" width="9.807" height="9.838" fill="#00ff00"/>
<rect x="271.22" y="208.58" width="9.807" height="9.838" fill="#00ff00"/>
<rect x="281.03" y="208.58" width="9.807" height="9.838" fill="#55ffff"/>
<rect x="290.83" y="208.58" width="9.807" height="9.838" fill="#00ff00"/>
<rect x="300.64" y="208.58" width="9.807" height="9.838" fill="#00ff00"/>
<rect x="310.45" y="208.58" width="9.807" height="9.838" fill="#00ff00"/>
<rect x="320.25" y="208.58" width="9.807" height="9.838" fill="#00ff00"/>
<rect x="339.87" y="208.58" width="9.807" height="9.838" fill="#00ff00"/>
<rect x="349.68" y="208.58" width="9.807" height="9.838" fill="#00ff00"/>
<rect x="359.48" y="208.58" width="9.807" height="9.838" fill="#00ff00"/>
<rect x="369.29" y="208.58" width="9.807" height="9.838" fill="#00ff00"/>
<rect x="379.10" y="208.58" width="9.807" height="9.838" fill="#00ff00"/>
<rect x="398.71" y="208.58" width="9.807" height="9.838" fill="#00ff00"/>
<rect x="408.52" y="208.58" width="9.807" height="9.838" fill="#55ffff"/>
<rect x="418.32" y="208.58" width="9.807" height="9.838" fill="#00ff00"/>
<rect x="428.13" y="208.58" width="9.807" height="9.838" fill="#00ff00"/>
<rect x="437.94" y="208.58" width="9.807" height="9.838" fill="#00ff00"/>
<rect x="447.75" y="208.58" width="9.807" height="9.838" fill="#00ff00"/>
<rect x="457.55" y="208.58" width="9.807" height="9.838" fill="#00ff00"/>
<rect x="467.36" y="208.58" width="9.807" height="9.838" fill="#00ff00"/>
<rect x="477.17" y="208.58" width="9.807" height="9.838" fill="#00ff00"/>
<rect x="486.97" y="208.58" width="9.807" height="9.838" fill="#00ff00"/>
<rect x="496.78" y="208.58" width="9.807" height="9.838" fill="#00ff00"/>
<rect x="506.59" y="208.58" width="9.807" height="9.838" fill="#00ff00"/>
<rect x="516.39" y="208.58" width="9.807" height="9.838" fill="#00ff00"/>
<rect x="526.20" y="208.58" width="9.807" height="9.838" fill="#55ffff"/>
<rect x="536.01" y="208.58" width="9.807" height="9.838" fill="#00ff00"/>
<rect x="545.82" y="208.58" width="9.807" height="9.838" fill="#00ff00"/>
<rect x="555.62" y="208.58" width="9.807" height="9.838" fill="#00ff00"/>
<rect x="565.43" y="208.58" width="9.807" height="9.838" fill="#55ffff"/>
<rect x="575.24" y="208.58" width="9.807" height="9.838" fill="#55ffff"/>
<rect x="585.04" y="208.58" width="9.807" height="9.838" fill="#00ff00"/>
<rect x="594.85" y="208.58" width="9.807" height="9.838" fill="#00ff00"/>
<rect x="604.66" y="208.58" width="9.807" height="9.838" fill="#00ff00"/>
<rect x="614.46" y="208.58" width="9.807" height="9.838" fill="#00ff00"/>
<rect x="624.27" y="208.58" width="9.807" height="9.838" fill="#55ffff"/>
<rect x="634.08" y="208.58" width="9.807" height="9.838" fill="#00ff00"/>
<rect x="643.88" y="208.58" width="9.807" height="9.838" fill="#00ff00"/>
<rect x="653.69" y="208.58" width="9.807" height="9.838" fill="#00ff00"/>
<rect x="182.96" y="218.42" width="9.807" height="9.838" fill="#55ffff"/>
<rect x="212.38" y="218.42" width="9.807" height="9.838" fill="#00ff00"/>
<rect x="222.18" y="218.42" width="9.807" height="9.838" fill="#00ff00"/>
<rect x="231.99" y="218.42" width="9.807" height="9.838" fill="#00ff00"/>
<rect x="241.80" y="218.42" width="9.807" height="9.838" fill="#00ff00"/>
<rect x="251.61" y="218.42" width="9.807" height="9.838" fill="#00ff00"/>
<rect x="261.41" y="218.42" width="9.807" height="9.838" fill="#00ff00"/>
<rect x="271.22" y="218.42" width="9.807" height="9.838" fill="#00ff00"/>
<rect x="281.03" y="218.42" width="9.807" height="9.838" fill="#55ffff"/>
<rect x="290.83" y="218.42" width="9.807" height="9.838" fill="#00ff00"/>
<rect x="300.64" y="218.42" width="9.807" height="9.838" fill="#55ffff"/>
<rect x="310.45" y="218.42" width="9.807" height="9.838" fill="#00ff00"/>
<rect x="320.25" y="218.42" width="9.807" height="9.838" fill="#00ff00"/>
<rect x="330.06" y="218.42" width="9.807" height="9.838" fill="#00ff00"/>
<rect x="379.10" y="218.42" width="9.807" height="9.838" fill="#00ff00"/>
<rect x="398.71" y="218.42" width="9.807" height="9.838" fill="#00ff00"/>
<rect x="408.52" y="218.42" width="9.807" height="9.838" fill="#00ff00"/>
<rect x="418.32" y="218.42" width="9.807" height="9.838" fill="#00ff00"/>
<rect x="428.13" y="218.42" width="9.807" height="9.838" fill="#00ff00"/>
<rect x="437.94" y="218.42" width="9.807" height="9.838" fill="#00ff00"/>
<rect x="447.75" y="218.42" width="9.807" height="9.838" fill="#00ff00"/>
<rect x="457.55" y="218.42" width="9.807" height="9.838" fill="#00ff00"/>
<rect x="467.36" y="218.42" width="9.807" height="9.838" fill="#55ffff"/>
<rect x="486.97" y="218.42" width="9.807" height="9.838" fill="#00ff00"/>
<rect x="496.78" y="218.42" width="9.807" height="9.838" fill="#00ff00"/>
<rect x="506.59" y="218.42" width="9.807" height="9.838" fill="#00ff00"/>
<rect x="516.39" y="218.42" width="9.807" height="9.838" fill="#00ff00"/>
<rect x="526.20" y="218.42" width="9.807" height="9.838" fill="#00ff00"/>
<rect x="536.01" y="218.42" width="9.807" height="9.838" fill="#00ff00"/>
<rect x="545.82" y="218.42" width="9.807" height="9.838" fill="#00ff00"/>
<rect x="555.62" y="218.42" width="9.807" height="9.838" fill="#55ffff"/>
<rect x="565.43" y="218.42" width="9.807" height="9.838" fill="#00ff00"/>
<rect x="575.24" y="218.42" width="9.807" height="9.838" fill="#00ff00"/>
<rect x="585.04" y="218.42" width="9.807" height="9.838" fill="#00ff00"/>
<rect x="594.85" y="218.42" width="9.807" height="9.838" fill="#00ff00"/>
<rect x="604.66" y="218.42" width="9.807" height="9.838" fill="#55ffff"/>
<rect x="614.46" y="218.42" width="9.807" height="9.838" fill="#00ff00"/>
<rect x="624.27" y="218.42" width="9.807" height="9.838" fill="#ffff00"/>
<rect x="634.08" y="218.42" width="9.807" height="9.838" fill="#00ff00"/>
<rect x="643.88" y="218.42" width="9.807" height="9.838" fill="#00ff00"/>
<rect x="653.69" y="218.42" width="9.807" height="9.838" fill="#00ff00"/>
<rect x="173.15" y="228.26" width="9.807" height="9.838" fill="#00ff00"/>
<rect x="182.96" y="228.26" width="9.807" height="9.838" fill="#00ff00"/>
<rect x="192.76" y="228.26" width="9.807" height="9.838" fill="#ff0000"/>
<rect x="202.57" y="228.26" width="9.807" height="9.838" fill="#55ffff"/>
<rect x="212.38" y="228.26" width="9.807" height="9.838" fill="#ff0000"/>
<rect x="222.18" y="228.26" width="9.807" height="9.838" fill="#ffff00"/>
<rect x="231.99" y="228.26" width="9.807" height="9.838" fill="#55ffff"/>
<rect x="251.61" y="228.26" width="9.807" height="9.838" fill="#00ff00"/>
<rect x="261.41" y="228.26" width="9.807" height="9.838" fill="#ffff00"/>
<rect x="271.22" y="228.26" width="9.807" height="9.838" fill="#ffff00"/>
<rect x="281.03" y="228.26" width="9.807" height="9.838" fill="#ffff00"/>
<rect x="290.83" y="228.26" width="9.807" height="9.838" fill="#55ffff"/>
<rect x="300.64" y="228.26" width="9.807" height="9.838" fill="#55ffff"/>
<rect x="310.45" y="228.26" width="9.807" height="9.838" fill="#55ffff"/>
<rect x="330.06" y="228.26" width="9.807" height="9.838" fill="#00ff00"/>
<rect x="339.87" y="228.26" width="9.807" height="9.838" fill="#55ffff"/>
<rect x="349.68" y="228.26" width="9.807" height="9.838" fill="#ffffff"/>
<rect x="369.29" y="228.26" width="9.807" height="9.838" fill="#00ff00"/>
<rect x="379.10" y="228.26" width="9.807" height="9.838" fill="#00ff00"/>
<rect x="388.90" y="228.26" width="9.807" height="9.838" fill="#00ff00"/>
<rect x="408.52" y="228.26" width="9.807" height="9.838" fill="#00ff00"/>
<rect x="418.32" y="228.26" width="9.807" height="9.838" fill="#00ff00"/>
<rect x="428.13" y="228.26" width="9.807" height="9.838" fill="#00ff00"/>
<rect x="437.94" y="228.26" width="9.807" height="9.838" fill="#00ff00"/>
<rect x="447.75" y="228.26" width="9.807" height="9.838" fill="#00ff00"/>
<rect x="457.55" y="228.26" width="9.807" height="9.838" fill="#00ff00"/>
<rect x="467.36" y="228.26" width="9.807" height="9.838" fill="#00ff00"/>
<rect x="477.17" y="228.26" width="9.807" height="9.838" fill="#00ff00"/>
<rect x="486.97" y="228.26" width="9.807" height="9.838" fill="#55ffff"/>
<rect x="496.78" y="228.26" width="9.807" height="9.838" fill="#00ff00"/>
<rect x="506.59" y="228.26" width="9.807" height="9.838" fill="#55ffff"/>
<rect x="516.39" y="228.26" width="9.807" height="9.838" fill="#00ff00"/>
<rect x="526.20" y="228.26" width="9.807" height="9.838" fill="#00ff00"/>
<rect x="536.01" y="228.26" width="9.807" height="9.838" fill="#00ff00"/>
<rect x="545.82" y="228.26" width="9.807" height="9.838" fill="#ffff00"/>
<rect x="555.62" y="228.26" width="9.807" height="9.838" fill="#00ff00"/>
<rect x="565.43" y="228.26" width="9.807" height="9.838" fill="#00ff00"/>
<rect x="575.24" y="228.26" width="9.807" height="9.838" fill="#00ff00"/>
<rect x="585.04" y="228.26" width="9.807" height="9.838" fill="#ff0000"/>
<rect x="594.85" y="228.26" width="9.807" height="9.838" fill="#00ff00"/>
<rect x="604.66" y="228.26" width="9.807" height="9.838" fill="#55ffff"/>
<rect x="614.46" y="228.26" width="9.807" height="9.838" fill="#00ff00"/>
<rect x="624.27" y="228.26" width="9.807" height="9.838" fill="#00ff00"/>
<rect x="634.08" y="228.26" width="9.807" height="9.838" fill="#55ffff"/>
<rect x="643.88" y="228.26" width="9.807" height="9.838" fill="#00ff00"/>
<rect x="192.76" y="238.10" width="9.807" height="9.838" fill="#ff0000"/>
<rect x="202.57" y="238.10" width="9.807" height="9.838" fill="#ffff00"/>
<rect x="212.38" y="238.10" width="9.807" height="9.838" fill="#ffff00"/>
<rect x="251.61" y="238.10" width="9.807" height="9.838" fill="#55ffff"/>
<rect x="261.41" y="238.10" width="9.807" height="9.838" fill="#00ff00"/>
<rect x="271.22" y="238.10" width="9.807" height="9.838" fill="#55ffff"/>
<rect x="281.03" y="238.10" width="9.807" height="9.838" fill="#00ff00"/>
<rect x="290.83" y="238.10" width="9.807" height="9.838" fill="#55ffff"/>
<rect x="300.64" y="238.10" width="9.807" height="9.838" fill="#55ffff"/>
<rect x="320.25" y="238.10" width="9.807" height="9.838" fill="#55ffff"/>
<rect x="330.06" y="238.10" width="9.807" height="9.838" fill="#00ff00"/>
<rect x="339.87" y="238.10" width="9.807" height="9.838" fill="#00ff00"/>
<rect x="349.68" y="238.10" width="9.807" height="9.838" fill="#00ff00"/>
<rect x="369.29" y="238.10" width="9.807" height="9.838" fill="#55ffff"/>
<rect x="379.10" y="238.10" width="9.807" height="9.838" fill="#00ff00"/>
<rect x="388.90" y="238.10" width="9.807" height="9.838" fill="#55ffff"/>
<rect x="408.52" y="238.10" width="9.807" height="9.838" fill="#00ff00"/>
<rect x="418.32" y="238.10" width="9.807" height="9.838" fill="#ffff00"/>
<rect x="428.13" y="238.10" width="9.807" height="9.838" fill="#00ff00"/>
<rect x="437.94" y="238.10" width="9.807" height="9.838" fill="#00ff00"/>
<rect x="467.36" y="238.10" width="9.807" height="9.838" fill="#00ff00"/>
<rect x="477.17" y="238.10" width="9.807" height="9.838" fill="#00ff00"/>
<rect x="486.97" y="238.10" width="9.807" height="9.838" fill="#55ffff"/>
<rect x="496.78" y="238.10" width="9.807" height="9.838" fill="#55ffff"/>
<rect x="506.59" y="238.10" width="9.807" height="9.838" fill="#55ffff"/>
<rect x="516.39" y="238.10" width="9.807" height="9.838" fill="#00ff00"/>
<rect x="536.01" y="238.10" width="9.807" height="9.838" fill="#ff0000"/>
<rect x="545.82" y="238.10" width="9.807" height="9.838" fill="#00ff00"/>
<rect x="555.62" y="238.10" width="9.807" height="9.838" fill="#00ff00"/>
<rect x="565.43" y="238.10" width="9.807" height="9.838" fill="#00ff00"/>
<rect x="575.24" y="238.10" width="9.807" height="9.838" fill="#00ff00"/>
<rect x="585.04" y="238.10" width="9.807" height="9.838" fill="#00ff00"/>
<rect x="594.85" y="238.10" width="9.807" height="9.838" fill="#00ff00"/>
<rect x="604.66" y="238.10" width="9.807" height="9.838" fill="#00ff00"/>
<rect x="614.46" y="238.10" width="9.807" height="9.838" fill="#55ffff"/>
<rect x="624.27" y="238.10" width="9.807" height="9.838" fill="#55ffff"/>
<rect x="634.08" y="238.10" width="9.807" height="9.838" fill="#00ff00"/>
<rect x="643.88" y="238.10" width="9.807" height="9.838" fill="#00ff00"/>
<rect x="212.38" y="247.94" width="9.807" height="9.838" fill="#ff0000"/>
<rect x="222.18" y="247.94" width="9.807" height="9.838" fill="#ffff00"/>
<rect x="231.99" y="247.94" width="9.807" height="9.838" fill="#ffff00"/>
<rect x="251.61" y="247.94" width="9.807" height="9.838" fill="#55ffff"/>
<rect x="261.41" y="247.94" width="9.807" height="9.838" fill="#55ffff"/>
<rect x="271.22" y="247.94" width="9.807" height="9.838" fill="#55ffff"/>
<rect x="281.03" y="247.94" width="9.807" height="9.838" fill="#ffff00"/>
<rect x="290.83" y="247.94" width="9.807" height="9.838" fill="#55ffff"/>
<rect x="300.64" y="247.94" width="9.807" height="9.838" fill="#00ff00"/>
<rect x="320.25" y="247.94" width="9.807" height="9.838" fill="#00ff00"/>
<rect x="339.87" y="247.94" width="9.807" height="9.838" fill="#00ff00"/>
<rect x="349.68" y="247.94" width="9.807" height="9.838" fill="#00ff00"/>
<rect x="359.48" y="247.94" width="9.807" height="9.838" fill="#00ff00"/>
<rect x="369.29" y="247.94" width="9.807" height="9.838" fill="#55ffff"/>
<rect x="379.10" y="247.94" width="9.807" height="9.838" fill="#00ff00"/>
<rect x="388.90" y="247.94" width="9.807" height="9.838" fill="#55ffff"/>
<rect x="398.71" y="247.94" width="9.807" height="9.838" fill="#55ffff"/>
<rect x="408.52" y="247.94" width="9.807" height="9.838" fill="#55ffff"/>
<rect x="418.32" y="247.94" width="9.807" height="9.838" fill="#00ff00"/>
<rect x="428.13" y="247.94" width="9.807" height="9.838" fill="#55ffff"/>
<rect x="437.94" y="247.94" width="9.807" height="9.838" fill="#00ff00"/>
<rect x="447.75" y="247.94" width="9.807" height="9.838" fill="#00ff00"/>
<rect x="467.36" y="247.94" width="9.807" height="9.838" fill="#00ff00"/>
<rect x="486.97" y="247.94" width="9.807" height="9.838" fill="#ffffff"/>
<rect x="496.78" y="247.94" width="9.807" height="9.838" fill="#55ffff"/>
<rect x="506.59" y="247.94" width="9.807" height="9.838" fill="#00ff00"/>
<rect x="516.39" y="247.94" width="9.807" height="9.838" fill="#00ff00"/>
<rect x="526.20" y="247.94" width="9.807" height="9.838" fill="#00ff00"/>
<rect x="545.82" y="247.94" width="9.807" height="9.838" fill="#55ffff"/>
<rect x="555.62" y="247.94" width="9.807" height="9.838" fill="#00ff00"/>
<rect x="565.43" y="247.94" width="9.807" height="9.838" fill="#55ffff"/>
<rect x="575.24" y="247.94" width="9.807" height="9.838" fill="#ffff00"/>
<rect x="594.85" y="247.94" width="9.807" height="9.838" fill="#ffff00"/>
<rect x="604.66" y="247.94" width="9.807" height="9.838" fill="#00ff00"/>
<rect x="614.46" y="247.94" width="9.807" height="9.838" fill="#55ffff"/>
<rect x="222.18" y="257.77" width="9.807" height="9.838" fill="#ffff00"/>
<rect x="231.99" y="257.77" width="9.807" height="9.838" fill="#55ffff"/>
<rect x="241.80" y="257.77" width="9.807" height="9.838" fill="#55ffff"/>
<rect x="251.61" y="257.77" width="9.807" height="9.838" fill="#ff0000"/>
<rect x="261.41" y="257.77" width="9.807" height="9.838" fill="#55ffff"/>
<rect x="271.22" y="257.77" width="9.807" height="9.838" fill="#ff0000"/>
<rect x="290.83" y="257.77" width="9.807" height="9.838" fill="#55ffff"/>
<rect x="300.64" y="257.77" width="9.807" height="9.838" fill="#00ff00"/>
<rect x="310.45" y="257.77" width="9.807" height="9.838" fill="#00ff00"/>
<rect x="330.06" y="257.77" width="9.807" height="9.838" fill="#00ff00"/>
<rect x="339.87" y="257.77" width="9.807" height="9.838" fill="#00ff00"/>
<rect x="349.68" y="257.77" width="9.807" height="9.838" fill="#00ff00"/>
<rect x="359.48" y="257.77" width="9.807" height="9.838" fill="#00ff00"/>
<rect x="398.71" y="257.77" width="9.807" height="9.838" fill="#00ff00"/>
<rect x="408.52" y="257.77" width="9.807" height="9.838" fill="#00ff00"/>
<rect x="418.32" y="257.77" width="9.807" height="9.838" fill="#00ff00"/>
<rect x="428.13" y="257.77" width="9.807" height="9.838" fill="#00ff00"/>
<rect x="437.94" y="257.77" width="9.807" height="9.838" fill="#00ff00"/>
<rect x="447.75" y="257.77" width="9.807" height="9.838" fill="#00ff00"/>
<rect x="467.36" y="257.77" width="9.807" height="9.838" fill="#00ff00"/>
<rect x="477.17" y="257.77" width="9.807" height="9.838" fill="#ffffff"/>
<rect x="486.97" y="257.77" width="9.807" height="9.838" fill="#ffffff"/>
<rect x="496.78" y="257.77" width="9.807" height="9.838" fill="#55ffff"/>
<rect x="506.59" y="257.77" width="9.807" height="9.838" fill="#00ff00"/>
<rect x="516.39" y="257.77" width="9.807" height="9.838" fill="#00ff00"/>
<rect x="526.20" y="257.77" width="9.807" height="9.838" fill="#55ffff"/>
<rect x="545.82" y="257.77" width="9.807" height="9.838" fill="#00ff00"/>
<rect x="555.62" y="257.77" width="9.807" height="9.838" fill="#00ff00"/>
<rect x="565.43" y="257.77" width="9.807" height="9.838" fill="#55ffff"/>
<rect x="575.24" y="257.77" width="9.807" height="9.838" fill="#00ff00"/>
<rect x="585.04" y="257.77" width="9.807" height="9.838" fill="#ff0000"/>
<rect x="594.85" y="257.77" width="9.807" height="9.838" fill="#00ff00"/>
<rect x="604.66" y="257.77" width="9.807" height="9.838" fill="#00ff00"/>
<rect x="614.46" y="257.77" width="9.807" height="9.838" fill="#55ffff"/>
<rect x="222.18" y="267.61" width="9.807" height="9.838" fill="#00ff00"/>
<rect x="231.99" y="267.61" width="9.807" height="9.838" fill="#55ffff"/>
<rect x="241.80" y="267.61" width="9.807" height="9.838" fill="#ffff00"/>
<rect x="251.61" y="267.61" width="9.807" height="9.838" fill="#55ffff"/>
<rect x="261.41" y="267.61" width="9.807" height="9.838" fill="#ffff00"/>
<rect x="271.22" y="267.61" width="9.807" height="9.838" fill="#ffff00"/>
<rect x="281.03" y="267.61" width="9.807" height="9.838" fill="#ff0000"/>
<rect x="290.83" y="267.61" width="9.807" height="9.838" fill="#00ff00"/>
<rect x="300.64" y="267.61" width="9.807" height="9.838" fill="#55ffff"/>
<rect x="320.25" y="267.61" width="9.807" height="9.838" fill="#55ffff"/>
<rect x="339.87" y="267.61" width="9.807" height="9.838" fill="#00ff00"/>
<rect x="349.68" y="267.61" width="9.807" height="9.838" fill="#00ff00"/>
<rect x="359.48" y="267.61" width="9.807" height="9.838" fill="#00ff00"/>
<rect x="369.29" y="267.61" width="9.807" height="9.838" fill="#00ff00"/>
<rect x="379.10" y="267.61" width="9.807" height="9.838" fill="#00ff00"/>
<rect x="388.90" y="267.61" width="9.807" height="9.838" fill="#00ff00"/>
<rect x="398.71" y="267.61" width="9.807" height="9.838" fill="#00ff00"/>
<rect x="408.52" y="267.61" width="9.807" height="9.838" fill="#ffffff"/>
<rect x="428.13" y="267.61" width="9.807" height="9.838" fill="#00ff00"/>
<rect x="437.94" y="267.61" width="9.807" height="9.838" fill="#00ff00"/>
<rect x="447.75" y="267.61" width="9.807" height="9.838" fill="#00ff00"/>
<rect x="457.55" y="267.61" width="9.807" height="9.838" fill="#00ff00"/>
<rect x="467.36" y="267.61" width="9.807" height="9.838" fill="#00ff00"/>
<rect x="477.17" y="267.61" width="9.807" height="9.838" fill="#00ff00"/>
<rect x="486.97" y="267.61" width="9.807" height="9.838" fill="#ffffff"/>
<rect x="496.78" y="267.61" width="9.807" height="9.838" fill="#ffff00"/>
<rect x="506.59" y="267.61" width="9.807" height="9.838" fill="#55ffff"/>
<rect x="516.39" y="267.61" width="9.807" height="9.838" fill="#55ffff"/>
<rect x="526.20" y="267.61" width="9.807" height="9.838" fill="#00ff00"/>
<rect x="536.01" y="267.61" width="9.807" height="9.838" fill="#00ff00"/>
<rect x="545.82" y="267.61" width="9.807" height="9.838" fill="#00ff00"/>
<rect x="555.62" y="267.61" width="9.807" height="9.838" fill="#55ffff"/>
<rect x="565.43" y="267.61" width="9.807" height="9.838" fill="#55ffff"/>
<rect x="575.24" y="267.61" width="9.807" height="9.838" fill="#55ffff"/>
<rect x="585.04" y="267.61" width="9.807" height="9.838" fill="#00ff00"/>
<rect x="594.85" y="267.61" width="9.807" height="9.838" fill="#00ff00"/>
<rect x="604.66" y="267.61" width="9.807" height="9.838" fill="#00ff00"/>
<rect x="231.99" y="277.45" width="9.807" height="9.838" fill="#ff0000"/>
<rect x="251.61" y="277.45" width="9.807" height="9.838" fill="#ffffff"/>
<rect x="261.41" y="277.45" width="9.807" height="9.838" fill="#00ff00"/>
<rect x="271.22" y="277.45" width="9.807" height="9.838" fill="#ff0000"/>
<rect x="290.83" y="277.45" width="9.807" height="9.838" fill="#55ffff"/>
<rect x="300.64" y="277.45" width="9.807" height="9.838" fill="#00ff00"/>
<rect x="310.45" y="277.45" width="9.807" height="9.838" fill="#00ff00"/>
<rect x="320.25" y="277.45" width="9.807" height="9.838" fill="#00ff00"/>
<rect x="330.06" y="277.45" width="9.807" height="9.838" fill="#00ff00"/>
<rect x="339.87" y="277.45" width="9.807" height="9.838" fill="#00ff00"/>
<rect x="349.68" y="277.45" width="9.807" height="9.838" fill="#00ff00"/>
<rect x="369.29" y="277.45" width="9.807" height="9.838" fill="#00ff00"/>
<rect x="379.10" y="277.45" width="9.807" height="9.838" fill="#00ff00"/>
<rect x="388.90" y="277.45" width="9.807" height="9.838" fill="#00ff00"/>
<rect x="398.71" y="277.45" width="9.807" height="9.838" fill="#00ff00"/>
<rect x="408.52" y="277.45" width="9.807" height="9.838" fill="#00ff00"/>
<rect x="418.32" y="277.45" width="9.807" height="9.838" fill="#00ff00"/>
<rect x="428.13" y="277.45" width="9.807" height="9.838" fill="#00ff00"/>
<rect x="437.94" y="277.45" width="9.807" height="9.838" fill="#00ff00"/>
<rect x="447.75" y="277.45" width="9.807" height="9.838" fill="#00ff00"/>
<rect x="457.55" y="277.45" width="9.807" height="9.838" fill="#00ff00"/>
<rect x="467.36" y="277.45" width="9.807" height="9.838" fill="#00ff00"/>
<rect x="477.17" y="277.45" width="9.807" height="9.838" fill="#00ff00"/>
<rect x="486.97" y="277.45" width="9.807" height="9.838" fill="#00ff00"/>
<rect x="496.78" y="277.45" width="9.807" height="9.838" fill="#00ff00"/>
<rect x="506.59" y="277.45" width="9.807" height="9.838" fill="#55ffff"/>
<rect x="516.39" y="277.45" width="9.807" height="9.838" fill="#55ffff"/>
<rect x="536.01" y="277.45" width="9.807" height="9.838" fill="#55ffff"/>
<rect x="545.82" y="277.45" width="9.807" height="9.838" fill="#00ff00"/>
<rect x="555.62" y="277.45" width="9.807" height="9.838" fill="#00ff00"/>
<rect x="565.43" y="277.45" width="9.807" height="9.838" fill="#ff0000"/>
<rect x="575.24" y="277.45" width="9.807" height="9.838" fill="#55ffff"/>
<rect x="585.04" y="277.45" width="9.807" height="9.838" fill="#ffff00"/>
<rect x="594.85" y="277.45" width="9.807" height="9.838" fill="#00ff00"/>
<rect x="604.66" y="277.45" width="9.807" height="9.838" fill="#55ffff"/>
<rect x="241.80" y="287.29" width="9.807" height="9.838" fill="#ff0000"/>
<rect x="251.61" y="287.29" width="9.807" height="9.838" fill="#ff0000"/>
<rect x="261.41" y="287.29" width="9.807" height="9.838" fill="#00ff00"/>
<rect x="271.22" y="287.29" width="9.807" height="9.838" fill="#55ffff"/>
<rect x="281.03" y="287.29" width="9.807" height="9.838" fill="#00ff00"/>
<rect x="290.83" y="287.29" width="9.807" height="9.838" fill="#ffff00"/>
<rect x="300.64" y="287.29" width="9.807" height="9.838" fill="#55ffff"/>
<rect x="310.45" y="287.29" width="9.807" height="9.838" fill="#00ff00"/>
<rect x="330.06" y="287.29" width="9.807" height="9.838" fill="#00ff00"/>
<rect x="339.87" y="287.29" width="9.807" height="9.838" fill="#00ff00"/>
<rect x="369.29" y="287.29" width="9.807" height="9.838" fill="#00ff00"/>
<rect x="379.10" y="287.29" width="9.807" height="9.838" fill="#00ff00"/>
<rect x="388.90" y="287.29" width="9.807" height="9.838" fill="#00ff00"/>
<rect x="398.71" y="287.29" width="9.807" height="9.838" fill="#00ff00"/>
<rect x="408.52" y="287.29" width="9.807" height="9.838" fill="#00ff00"/>
<rect x="418.32" y="287.29" width="9.807" height="9.838" fill="#00ff00"/>
<rect x="428.13" y="287.29" width="9.807" height="9.838" fill="#00ff00"/>
<rect x="437.94" y="287.29" width="9.807" height="9.838" fill="#00ff00"/>
<rect x="447.75" y="287.29" width="9.807" height="9.838" fill="#00ff00"/>
<rect x="457.55" y="287.29" width="9.807" height="9.838" fill="#00ff00"/>
<rect x="467.36" y="287.29" width="9.807" height="9.838" fill="#00ff00"/>
<rect x="477.17" y="287.29" width="9.807" height="9.838" fill="#00ff00"/>
<rect x="506.59" y="287.29" width="9.807" height="9.838" fill="#00ff00"/>
<rect x="516.39" y="287.29" width="9.807" height="9.838" fill="#00ff00"/>
<rect x="526.20" y="287.29" width="9.807" height="9.838" fill="#00ff00"/>
<rect x="536.01" y="287.29" width="9.807" height="9.838" fill="#55ffff"/>
<rect x="545.82" y="287.29" width="9.807" height="9.838" fill="#ffffff"/>
<rect x="565.43" y="287.29" width="9.807" height="9.838" fill="#ffffff"/>
<rect x="585.04" y="287.29" width="9.807" height="9.838" fill="#ff0000"/>
<rect x="594.85" y="287.29" width="9.807" height="9.838" fill="#ffffff"/>
<rect x="604.66" y="287.29" width="9.807" height="9.838" fill="#ffffff"/>
<rect x="241.80" y="297.13" width="9.807" height="9.838" fill="#ffffff"/>
<rect x="281.03" y="297.13" width="9.807" height="9.838" fill="#ff0000"/>
<rect x="310.45" y="297.13" width="9.807" height="9.838" fill="#00ff00"/>
<rect x="320.25" y="297.13" width="9.807" height="9.838" fill="#00ff00"/>
<rect x="330.06" y="297.13" width="9.807" height="9.838" fill="#00ff00"/>
<rect x="339.87" y="297.13" width="9.807" height="9.838" fill="#00ff00"/>
<rect x="349.68" y="297.13" width="9.807" height="9.838" fill="#00ff00"/>
<rect x="369.29" y="297.13" width="9.807" height="9.838" fill="#00ff00"/>
<rect x="379.10" y="297.13" width="9.807" height="9.838" fill="#00ff00"/>
<rect x="388.90" y="297.13" width="9.807" height="9.838" fill="#00ff00"/>
<rect x="398.71" y="297.13" width="9.807" height="9.838" fill="#00ff00"/>
<rect x="408.52" y="297.13" width="9.807" height="9.838" fill="#00ff00"/>
<rect x="418.32" y="297.13" width="9.807" height="9.838" fill="#00ff00"/>
<rect x="428.13" y="297.13" width="9.807" height="9.838" fill="#00ff00"/>
<rect x="437.94" y="297.13" width="9.807" height="9.838" fill="#00ff00"/>
<rect x="447.75" y="297.13" width="9.807" height="9.838" fill="#00ff00"/>
<rect x="477.17" y="297.13" width="9.807" height="9.838" fill="#55ffff"/>
<rect x="486.97" y="297.13" width="9.807" height="9.838" fill="#55ffff"/>
<rect x="496.78" y="297.13" width="9.807" height="9.838" fill="#00ff00"/>
<rect x="506.59" y="297.13" width="9.807" height="9.838" fill="#55ffff"/>
<rect x="516.39" y="297.13" width="9.807" height="9.838" fill="#55ffff"/>
<rect x="526.20" y="297.13" width="9.807" height="9.838" fill="#ffff00"/>
<rect x="251.61" y="306.96" width="9.807" height="9.838" fill="#ff0000"/>
<rect x="261.41" y="306.96" width="9.807" height="9.838" fill="#00ff00"/>
<rect x="271.22" y="306.96" width="9.807" height="9.838" fill="#ff0000"/>
<rect x="281.03" y="306.96" width="9.807" height="9.838" fill="#ff0000"/>
<rect x="290.83" y="306.96" width="9.807" height="9.838" fill="#55ffff"/>
<rect x="310.45" y="306.96" width="9.807" height="9.838" fill="#00ff00"/>
<rect x="320.25" y="306.96" width="9.807" height="9.838" fill="#00ff00"/>
<rect x="330.06" y="306.96" width="9.807" height="9.838" fill="#00ff00"/>
<rect x="339.87" y="306.96" width="9.807" height="9.838" fill="#00ff00"/>
<rect x="349.68" y="306.96" width="9.807" height="9.838" fill="#00ff00"/>
<rect x="359.48" y="306.96" width="9.807" height="9.838" fill="#00ff00"/>
<rect x="369.29" y="306.96" width="9.807" height="9.838" fill="#00ff00"/>
<rect x="379.10" y="306.96" width="9.807" height="9.838" fill="#00ff00"/>
<rect x="388.90" y="306.96" width="9.807" height="9.838" fill="#00ff00"/>
<rect x="398.71" y="306.96" width="9.807" height="9.838" fill="#55ffff"/>
<rect x="408.52" y="306.96" width="9.807" height="9.838" fill="#00ff00"/>
<rect x="418.32" y="306.96" width="9.807" height="9.838" fill="#00ff00"/>
<rect x="428.13" y="306.96" width="9.807" height="9.838" fill="#00ff00"/>
<rect x="437.94" y="306.96" width="9.807" height="9.838" fill="#00ff00"/>
<rect x="447.75" y="306.96" width="9.807" height="9.838" fill="#00ff00"/>
<rect x="457.55" y="306.96" width="9.807" height="9.838" fill="#00ff00"/>
<rect x="477.17" y="306.96" width="9.807" height="9.838" fill="#55ffff"/>
<rect x="486.97" y="306.96" width="9.807" height="9.838" fill="#00ff00"/>
<rect x="496.78" y="306.96" width="9.807" height="9.838" fill="#00ff00"/>
<rect x="506.59" y="306.96" width="9.807" height="9.838" fill="#00ff00"/>
<rect x="251.61" y="316.80" width="9.807" height="9.838" fill="#ff0000"/>
<rect x="261.41" y="316.80" width="9.807" height="9.838" fill="#ffff00"/>
<rect x="271.22" y="316.80" width="9.807" height="9.838" fill="#00ff00"/>
<rect x="281.03" y="316.80" width="9.807" height="9.838" fill="#ff0000"/>
<rect x="300.64" y="316.80" width="9.807" height="9.838" fill="#55ffff"/>
<rect x="310.45" y="316.80" width="9.807" height="9.838" fill="#55ffff"/>
<rect x="320.25" y="316.80" width="9.807" height="9.838" fill="#00ff00"/>
<rect x="330.06" y="316.80" width="9.807" height="9.838" fill="#00ff00"/>
<rect x="339.87" y="316.80" width="9.807" height="9.838" fill="#00ff00"/>
<rect x="349.68" y="316.80" width="9.807" height="9.838" fill="#00ff00"/>
<rect x="359.48" y="316.80" width="9.807" height="9.838" fill="#00ff00"/>
<rect x="369.29" y="316.80" width="9.807" height="9.838" fill="#00ff00"/>
<rect x="379.10" y="316.80" width="9.807" height="9.838" fill="#00ff00"/>
<rect x="388.90" y="316.80" width="9.807" height="9.838" fill="#00ff00"/>
<rect x="408.52" y="316.80" width="9.807" height="9.838" fill="#00ff00"/>
<rect x="418.32" y="316.80" width="9.807" height="9.838" fill="#00ff00"/>
<rect x="428.13" y="316.80" width="9.807" height="9.838" fill="#00ff00"/>
<rect x="437.94" y="316.80" width="9.807" height="9.838" fill="#00ff00"/>
<rect x="447.75" y="316.80" width="9.807" height="9.838" fill="#00ff00"/>
<rect x="457.55" y="316.80" width="9.807" height="9.838" fill="#00ff00"/>
<rect x="467.36" y="316.80" width="9.807" height="9.838" fill="#00ff00"/>
<rect x="477.17" y="316.80" width="9.807" height="9.838" fill="#00ff00"/>
<rect x="486.97" y="316.80" width="9.807" height="9.838" fill="#00ff00"/>
<rect x="496.78" y="316.80" width="9.807" height="9.838" fill="#00ff00"/>
<rect x="506.59" y="316.80" width="9.807" height="9.838" fill="#00ff00"/>
<rect x="251.61" y="326.64" width="9.807" height="9.838" fill="#ffffff"/>
<rect x="271.22" y="326.64" width="9.807" height="9.838" fill="#ff0000"/>
<rect x="281.03" y="326.64" width="9.807" height="9.838" fill="#ffff00"/>
<rect x="290.83" y="326.64" width="9.807" height="9.838" fill="#00ff00"/>
<rect x="300.64" y="326.64" width="9.807" height="9.838" fill="#55ffff"/>
<rect x="310.45" y="326.64" width="9.807" height="9.838" fill="#00ff00"/>
<rect x="320.25" y="326.64" width="9.807" height="9.838" fill="#00ff00"/>
<rect x="330.06" y="326.64" width="9.807" height="9.838" fill="#00ff00"/>
<rect x="339.87" y="326.64" width="9.807" height="9.838" fill="#00ff00"/>
<rect x="349.68" y="326.64" width="9.807" height="9.838" fill="#00ff00"/>
<rect x="359.48" y="326.64" width="9.807" height="9.838" fill="#00ff00"/>
<rect x="369.29" y="326.64" width="9.807" height="9.838" fill="#00ff00"/>
<rect x="379.10" y="326.64" width="9.807" height="9.838" fill="#55ffff"/>
<rect x="388.90" y="326.64" width="9.807" height="9.838" fill="#55ffff"/>
<rect x="398.71" y="326.64" width="9.807" height="9.838" fill="#00ff00"/>
<rect x="408.52" y="326.64" width="9.807" height="9.838" fill="#00ff00"/>
<rect x="418.32" y="326.64" width="9.807" height="9.838" fill="#00ff00"/>
<rect x="428.13" y="326.64" width="9.807" height="9.838" fill="#00ff00"/>
<rect x="437.94" y="326.64" width="9.807" height="9.838" fill="#00ff00"/>
<rect x="447.75" y="326.64" width="9.807" height="9.838" fill="#00ff00"/>
<rect x="457.55" y="326.64" width="9.807" height="9.838" fill="#55ffff"/>
<rect x="467.36" y="326.64" width="9.807" height="9.838" fill="#55ffff"/>
<rect x="477.17" y="326.64" width="9.807" height="9.838" fill="#00ff00"/>
<rect x="486.97" y="326.64" width="9.807" height="9.838" fill="#00ff00"/>
<rect x="496.78" y="326.64" width="9.807" height="9.838" fill="#00ff00"/>
<rect x="506.59" y="326.64" width="9.807" height="9.838" fill="#ffffff"/>
<rect x="261.41" y="336.48" width="9.807" height="9.838" fill="#ffff00"/>
<rect x="271.22" y="336.48" width="9.807" height="9.838" fill="#ffff00"/>
<rect x="281.03" y="336.48" width="9.807" height="9.838" fill="#ffff00"/>
<rect x="290.83" y="336.48" width="9.807" height="9.838" fill="#55ffff"/>
<rect x="300.64" y="336.48" width="9.807" height="9.838" fill="#00ff00"/>
<rect x="310.45" y="336.48" width="9.807" height="9.838" fill="#00ff00"/>
<rect x="320.25" y="336.48" width="9.807" height="9.838" fill="#00ff00"/>
<rect x="330.06" y="336.48" width="9.807" height="9.838" fill="#55ffff"/>
<rect x="339.87" y="336.48" width="9.807" height="9.838" fill="#00ff00"/>
<rect x="349.68" y="336.48" width="9.807" height="9.838" fill="#00ff00"/>
<rect x="359.48" y="336.48" width="9.807" height="9.838" fill="#00ff00"/>
<rect x="369.29" y="336.48" width="9.807" height="9.838" fill="#00ff00"/>
<rect x="379.10" y="336.48" width="9.807" height="9.838" fill="#55ffff"/>
<rect x="388.90" y="336.48" width="9.807" height="9.838" fill="#55ffff"/>
<rect x="398.71" y="336.48" width="9.807" height="9.838" fill="#00ff00"/>
<rect x="408.52" y="336.48" width="9.807" height="9.838" fill="#00ff00"/>
<rect x="418.32" y="336.48" width="9.807" height="9.838" fill="#00ff00"/>
<rect x="428.13" y="336.48" width="9.807" height="9.838" fill="#00ff00"/>
<rect x="437.94" y="336.48" width="9.807" height="9.838" fill="#00ff00"/>
<rect x="447.75" y="336.48" width="9.807" height="9.838" fill="#55ffff"/>
<rect x="457.55" y="336.48" width="9.807" height="9.838" fill="#00ff00"/>
<rect x="467.36" y="336.48" width="9.807" height="9.838" fill="#55ffff"/>
<rect x="486.97" y="336.48" width="9.807" height="9.838" fill="#00ff00"/>
<rect x="496.78" y="336.48" width="9.807" height="9.838" fill="#55ffff"/>
<rect x="261.41" y="346.32" width="9.807" height="9.838" fill="#ff0000"/>
<rect x="271.22" y="346.32" width="9.807" height="9.838" fill="#ffff00"/>
<rect x="290.83" y="346.32" width="9.807" height="9.838" fill="#55ffff"/>
<rect x="300.64" y="346.32" width="9.807" height="9.838" fill="#55ffff"/>
<rect x="310.45" y="346.32" width="9.807" height="9.838" fill="#55ffff"/>
<rect x="320.25" y="346.32" width="9.807" height="9.838" fill="#ffff00"/>
<rect x="330.06" y="346.32" width="9.807" height="9.838" fill="#ffff00"/>
<rect x="339.87" y="346.32" width="9.807" height="9.838" fill="#55ffff"/>
<rect x="349.68" y="346.32" width="9.807" height="9.838" fill="#00ff00"/>
<rect x="369.29" y="346.32" width="9.807" height="9.838" fill="#55ffff"/>
<rect x="379.10" y="346.32" width="9.807" height="9.838" fill="#55ffff"/>
<rect x="388.90" y="346.32" width="9.807" height="9.838" fill="#00ff00"/>
<rect x="398.71" y="346.32" width="9.807" height="9.838" fill="#55ffff"/>
<rect x="408.52" y="346.32" width="9.807" height="9.838" fill="#00ff00"/>
<rect x="418.32" y="346.32" width="9.807" height="9.838" fill="#00ff00"/>
<rect x="428.13" y="346.32" width="9.807" height="9.838" fill="#00ff00"/>
<rect x="437.94" y="346.32" width="9.807" height="9.838" fill="#00ff00"/>
<rect x="447.75" y="346.32" width="9.807" height="9.838" fill="#00ff00"/>
<rect x="457.55" y="346.32" width="9.807" height="9.838" fill="#00ff00"/>
<rect x="467.36" y="346.32" width="9.807" height="9.838" fill="#00ff00"/>
<rect x="477.17" y="346.32" width="9.807" height="9.838" fill="#55ffff"/>
<rect x="281.03" y="356.15" width="9.807" height="9.838" fill="#ffff00"/>
<rect x="290.83" y="356.15" width="9.807" height="9.838" fill="#00ff00"/>
<rect x="300.64" y="356.15" width="9.807" height="9.838" fill="#00ff00"/>
<rect x="310.45" y="356.15" width="9.807" height="9.838" fill="#00ff00"/>
<rect x="320.25" y="356.15" width="9.807" height="9.838" fill="#55ffff"/>
<rect x="330.06" y="356.15" width="9.807" height="9.838" fill="#ff0000"/>
<rect x="339.87" y="356.15" width="9.807" height="9.838" fill="#ffff00"/>
<rect x="349.68" y="356.15" width="9.807" height="9.838" fill="#00ff00"/>
<rect x="359.48" y="356.15" width="9.807" height="9.838" fill="#00ff00"/>
<rect x="369.29" y="356.15" width="9.807" height="9.838" fill="#55ffff"/>
<rect x="379.10" y="356.15" width="9.807" height="9.838" fill="#ffff00"/>
<rect x="388.90" y="356.15" width="9.807" height="9.838" fill="#55ffff"/>
<rect x="398.71" y="356.15" width="9.807" height="9.838" fill="#00ff00"/>
<rect x="408.52" y="356.15" width="9.807" height="9.838" fill="#55ffff"/>
<rect x="428.13" y="356.15" width="9.807" height="9.838" fill="#00ff00"/>
<rect x="437.94" y="356.15" width="9.807" height="9.838" fill="#ffff00"/>
<rect x="447.75" y="356.15" width="9.807" height="9.838" fill="#00ff00"/>
<rect x="457.55" y="356.15" width="9.807" height="9.838" fill="#00ff00"/>
<rect x="467.36" y="356.15" width="9.807" height="9.838" fill="#00ff00"/>
<rect x="281.03" y="365.99" width="9.807" height="9.838" fill="#55ffff"/>
<rect x="300.64" y="365.99" width="9.807" height="9.838" fill="#55ffff"/>
<rect x="310.45" y="365.99" width="9.807" height="9.838" fill="#00ff00"/>
<rect x="320.25" y="365.99" width="9.807" height="9.838" fill="#00ff00"/>
<rect x="330.06" y="365.99" width="9.807" height="9.838" fill="#00ff00"/>
<rect x="339.87" y="365.99" width="9.807" height="9.838" fill="#00ff00"/>
<rect x="349.68" y="365.99" width="9.807" height="9.838" fill="#55ffff"/>
<rect x="359.48" y="365.99" width="9.807" height="9.838" fill="#00ff00"/>
<rect x="369.29" y="365.99" width="9.807" height="9.838" fill="#00ff00"/>
<rect x="379.10" y="365.99" width="9.807" height="9.838" fill="#55ffff"/>
<rect x="388.90" y="365.99" width="9.807" height="9.838" fill="#ffff00"/>
<rect x="398.71" y="365.99" width="9.807" height="9.838" fill="#00ff00"/>
<rect x="408.52" y="365.99" width="9.807" height="9.838" fill="#55ffff"/>
<rect x="418.32" y="365.99" width="9.807" height="9.838" fill="#ffff00"/>
<rect x="437.94" y="365.99" width="9.807" height="9.838" fill="#00ff00"/>
<rect x="447.75" y="365.99" width="9.807" height="9.838" fill="#00ff00"/>
<rect x="457.55" y="365.99" width="9.807" height="9.838" fill="#00ff00"/>
<rect x="290.83" y="375.83" width="9.807" height="9.838" fill="#55ffff"/>
<rect x="300.64" y="375.83" width="9.807" height="9.838" fill="#00ff00"/>
<rect x="310.45" y="375.83" width="9.807" height="9.838" fill="#00ff00"/>
<rect x="320.25" y="375.83" width="9.807" height="9.838" fill="#55ffff"/>
<rect x="330.06" y="375.83" width="9.807" height="9.838" fill="#55ffff"/>
<rect x="339.87" y="375.83" width="9.807" height="9.838" fill="#55ffff"/>
<rect x="349.68" y="375.83" width="9.807" height="9.838" fill="#00ff00"/>
<rect x="359.48" y="375.83" width="9.807" height="9.838" fill="#00ff00"/>
<rect x="369.29" y="375.83" width="9.807" height="9.838" fill="#00ff00"/>
<rect x="379.10" y="375.83" width="9.807" height="9.838" fill="#00ff00"/>
<rect x="388.90" y="375.83" width="9.807" height="9.838" fill="#ffff00"/>
<rect x="398.71" y="375.83" width="9.807" height="9.838" fill="#55ffff"/>
<rect x="408.52" y="375.83" width="9.807" height="9.838" fill="#00ff00"/>
<rect x="418.32" y="375.83" width="9.807" height="9.838" fill="#00ff00"/>
<rect x="428.13" y="375.83" width="9.807" height="9.838" fill="#00ff00"/>
<rect x="437.94" y="375.83" width="9.807" height="9.838" fill="#00ff00"/>
<rect x="447.75" y="375.83" width="9.807" height="9.838" fill="#00ff00"/>
<rect x="457.55" y="375.83" width="9.807" height="9.838" fill="#00ff00"/>
<rect x="281.03" y="385.67" width="9.807" height="9.838" fill="#55ffff"/>
<rect x="290.83" y="385.67" width="9.807" height="9.838" fill="#ffff00"/>
<rect x="300.64" y="385.67" width="9.807" height="9.838" fill="#55ffff"/>
<rect x="310.45" y="385.67" width="9.807" height="9.838" fill="#55ffff"/>
<rect x="330.06" y="385.67" width="9.807" height="9.838" fill="#00ff00"/>
<rect x="339.87" y="385.67" width="9.807" height="9.838" fill="#55ffff"/>
<rect x="349.68" y="385.67" width="9.807" height="9.838" fill="#00ff00"/>
<rect x="379.10" y="385.67" width="9.807" height="9.838" fill="#55ffff"/>
<rect x="388.90" y="385.67" width="9.807" height="9.838" fill="#00ff00"/>
<rect x="398.71" y="385.67" width="9.807" height="9.838" fill="#00ff00"/>
<rect x="418.32" y="385.67" width="9.807" height="9.838" fill="#00ff00"/>
<rect x="428.13" y="385.67" width="9.807" height="9.838" fill="#00ff00"/>
<rect x="437.94" y="385.67" width="9.807" height="9.838" fill="#00ff00"/>
<rect x="447.75" y="385.67" width="9.807" height="9.838" fill="#55ffff"/>
<rect x="271.22" y="395.51" width="9.807" height="9.838" fill="#ff0000"/>
<rect x="281.03" y="395.51" width="9.807" height="9.838" fill="#ffff00"/>
<rect x="300.64" y="395.51" width="9.807" height="9.838" fill="#55ffff"/>
<rect x="310.45" y="395.51" width="9.807" height="9.838" fill="#00ff00"/>
<rect x="330.06" y="395.51" width="9.807" height="9.838" fill="#55ffff"/>
<rect x="339.87" y="395.51" width="9.807" height="9.838" fill="#55ffff"/>
<rect x="349.68" y="395.51" width="9.807" height="9.838" fill="#00ff00"/>
<rect x="388.90" y="395.51" width="9.807" height="9.838" fill="#00ff00"/>
<rect x="398.71" y="395.51" width="9.807" height="9.838" fill="#00ff00"/>
<rect x="408.52" y="395.51" width="9.807" height="9.838" fill="#55ffff"/>
<rect x="418.32" y="395.51" width="9.807" height="9.838" fill="#00ff00"/>
<rect x="428.13" y="395.51" width="9.807" height="9.838" fill="#00ff00"/>
<rect x="437.94" y="395.51" width="9.807" height="9.838" fill="#55ffff"/>
<rect x="261.41" y="405.34" width="9.807" height="9.838" fill="#ff0000"/>
<rect x="271.22" y="405.34" width="9.807" height="9.838" fill="#ff0000"/>
<rect x="281.03" y="405.34" width="9.807" height="9.838" fill="#55ffff"/>
<rect x="290.83" y="405.34" width="9.807" height="9.838" fill="#00ff00"/>
<rect x="300.64" y="405.34" width="9.807" height="9.838" fill="#00ff00"/>
<rect x="310.45" y="405.34" width="9.807" height="9.838" fill="#00ff00"/>
<rect x="320.25" y="405.34" width="9.807" height="9.838" fill="#ffff00"/>
<rect x="330.06" y="405.34" width="9.807" height="9.838" fill="#55ffff"/>
<rect x="339.87" y="405.34" width="9.807" height="9.838" fill="#ffff00"/>
<rect x="349.68" y="405.34" width="9.807" height="9.838" fill="#00ff00"/>
<rect x="369.29" y="405.34" width="9.807" height="9.838" fill="#55ffff"/>
<rect x="379.10" y="405.34" width="9.807" height="9.838" fill="#00ff00"/>
<rect x="388.90" y="405.34" width="9.807" height="9.838" fill="#55ffff"/>
<rect x="398.71" y="405.34" width="9.807" height="9.838" fill="#55ffff"/>
<rect x="408.52" y="405.34" width="9.807" height="9.838" fill="#ffff00"/>
<rect x="418.32" y="405.34" width="9.807" height="9.838" fill="#55ffff"/>
<rect x="251.61" y="415.18" width="9.807" height="9.838" fill="#ff0000"/>
<rect x="261.41" y="415.18" width="9.807" height="9.838" fill="#55ffff"/>
<rect x="271.22" y="415.18" width="9.807" height="9.838" fill="#ffff00"/>
<rect x="281.03" y="415.18" width="9.807" height="9.838" fill="#00ff00"/>
<rect x="300.64" y="415.18" width="9.807" height="9.838" fill="#55ffff"/>
<rect x="310.45" y="415.18" width="9.807" height="9.838" fill="#00ff00"/>
<rect x="330.06" y="415.18" width="9.807" height="9.838" fill="#ffffff"/>
<rect x="379.10" y="415.18" width="9.807" height="9.838" fill="#55ffff"/>
<rect x="398.71" y="415.18" width="9.807" height="9.838" fill="#ffff00"/>
<rect x="408.52" y="415.18" width="9.807" height="9.838" fill="#00ff00"/>
<rect x="418.32" y="415.18" width="9.807" height="9.838" fill="#55ffff"/>
<rect x="437.94" y="415.18" width="9.807" height="9.838" fill="#ffff00"/>
<rect x="261.41" y="425.02" width="9.807" height="9.838" fill="#ffff00"/>
<rect x="271.22" y="425.02" width="9.807" height="9.838" fill="#ffff00"/>
<rect x="281.03" y="425.02" width="9.807" height="9.838" fill="#ffff00"/>
<rect x="290.83" y="425.02" width="9.807" height="9.838" fill="#00ff00"/>
<rect x="300.64" y="425.02" width="9.807" height="9.838" fill="#55ffff"/>
<rect x="310.45" y="425.02" width="9.807" height="9.838" fill="#55ffff"/>
<rect x="320.25" y="425.02" width="9.807" height="9.838" fill="#55ffff"/>
<rect x="408.52" y="425.02" width="9.807" height="9.838" fill="#00ff00"/>
<rect x="418.32" y="425.02" width="9.807" height="9.838" fill="#00ff00"/>
<rect x="428.13" y="425.02" width="9.807" height="9.838" fill="#ffff00"/>
<rect x="437.94" y="425.02" width="9.807" height="9.838" fill="#ffffff"/>
<rect x="261.41" y="434.86" width="9.807" height="9.838" fill="#55ffff"/>
<rect x="271.22" y="434.86" width="9.807" height="9.838" fill="#55ffff"/>
<rect x="281.03" y="434.86" width="9.807" height="9.838" fill="#55ffff"/>
<rect x="290.83" y="434.86" width="9.807" height="9.838" fill="#ff0000"/>
<rect x="300.64" y="434.86" width="9.807" height="9.838" fill="#00ff00"/>
<rect x="310.45" y="434.86" width="9.807" height="9.838" fill="#55ffff"/>
<rect x="320.25" y="434.86" width="9.807" height="9.838" fill="#00ff00"/>
<rect x="428.13" y="434.86" width="9.807" height="9.838" fill="#ffffff"/>
<rect x="290.83" y="444.70" width="9.807" height="9.838" fill="#ffffff"/>
<rect x="310.45" y="444.70" width="9.807" height="9.838" fill="#ff0000"/>
<rect x="330.06" y="444.70" width="9.807" height="9.838" fill="#ffff00"/>
<rect x="330.06" y="454.53" width="9.807" height="9.838" fill="#55ffff"/>
</g>
<path d="M320.25 109.25L321.20 110.20M320.25 101.25L329.20 110.20M327.37 100.37L330.06 103.06M320.25 105.75L325.63 100.37M323.80 110.20L330.06 103.94M320.25 117.25L323.04 120.04M321.20 110.20L330.06 119.06M329.20 110.20L330.06 111.06M320.25 113.75L323.80 110.20M321.96 120.04L330.06 111.94M329.96 120.04L330.06 119.94M330.06 119.06L331.04 120.04M330.06 111.06L339.04 120.04M337.20 110.20L339.87 112.87M330.06 111.94L331.80 110.20M330.06 119.94L339.80 110.20M337.96 120.04L339.87 118.13M339.87 112.87L347.04 120.04M345.20 110.20L349.68 114.68M339.87 118.13L347.80 110.20M345.96 120.04L349.68 116.32M339.87 128.87L340.88 129.88M339.87 120.87L348.88 129.88M347.04 120.04L349.68 122.68M339.87 126.13L345.96 120.04M344.12 129.88L349.68 124.32M349.68 138.68L350.72 139.72M349.68 130.68L358.72 139.72M356.88 129.88L359.48 132.48M349.68 132.32L352.12 129.88M350.28 139.72L359.48 130.52M358.28 139.72L359.48 138.52M222.18 147.18L224.56 149.56M222.72 139.72L231.99 148.99M230.72 139.72L231.99 140.99M222.18 139.82L222.28 139.72M222.18 147.82L230.28 139.72M228.44 149.56L231.99 146.01M526.20 155.20L530.39 159.39M528.56 149.56L536.01 157.01M526.20 155.80L532.44 149.56M530.61 159.39L536.01 153.99M536.01 157.01L538.39 159.39M536.56 149.56L545.82 158.82M544.56 149.56L545.82 150.82M536.01 153.99L540.44 149.56M538.61 159.39L545.82 152.18M330.06 167.06L332.23 169.23M330.39 159.39L339.87 168.87M338.39 159.39L339.87 160.87M330.06 159.94L330.61 159.39M330.06 167.94L338.61 159.39M336.77 169.23L339.87 166.13M594.85 167.85L596.23 169.23M594.85 159.85L604.23 169.23M602.39 159.39L604.66 161.66M594.85 167.15L602.61 159.39M600.77 169.23L604.66 165.34M604.66 161.66L612.23 169.23M610.39 159.39L614.46 163.46M604.66 165.34L610.61 159.39M608.77 169.23L614.46 163.54M614.46 163.46L620.23 169.23M618.39 159.39L624.27 165.27M614.46 163.54L618.61 159.39M616.77 169.23L624.27 161.73M643.88 168.88L644.23 169.23M643.88 160.88L652.23 169.23M650.39 159.39L653.69 162.69M643.88 166.12L650.61 159.39M648.77 169.23L653.69 164.31M320.25 173.25L326.07 179.07M324.23 169.23L330.06 175.06M320.25 169.75L320.77 169.23M320.25 177.75L328.77 169.23M326.93 179.07L330.06 175.94M330.06 175.06L334.07 179.07M332.23 169.23L339.87 176.87M330.06 175.94L336.77 169.23M334.93 179.07L339.87 174.13M516.39 185.39L519.91 188.91M518.07 179.07L526.20 187.20M526.07 179.07L526.20 179.20M516.39 181.61L518.93 179.07M517.09 188.91L526.20 179.80M525.09 188.91L526.20 187.80M202.57 207.57L203.58 208.58M202.57 199.57L211.58 208.58M209.75 198.75L212.38 201.38M202.57 199.43L203.25 198.75M202.57 207.43L211.25 198.75M209.42 208.58L212.38 205.62M614.46 203.46L619.58 208.58M617.75 198.75L624.27 205.27M614.46 203.54L619.25 198.75M617.42 208.58L624.27 201.73M349.68 234.68L353.10 238.10M351.26 228.26L359.48 236.48M359.26 228.26L359.48 228.48M349.68 228.32L349.74 228.26M349.68 236.32L357.74 228.26M355.90 238.10L359.48 234.52M486.97 251.97L492.77 257.77M490.94 247.94L496.78 253.78M486.97 251.03L490.06 247.94M488.23 257.77L496.78 249.22M496.23 257.77L496.78 257.22M477.17 266.17L478.61 267.61M477.17 258.17L486.61 267.61M484.77 257.77L486.97 259.97M477.17 260.83L480.23 257.77M478.39 267.61L486.97 259.03M486.39 267.61L486.97 267.03M486.97 259.97L494.61 267.61M492.77 257.77L496.78 261.78M486.97 259.03L488.23 257.77M486.97 267.03L496.23 257.77M494.39 267.61L496.78 265.22M408.52 269.52L416.45 277.45M414.61 267.61L418.32 271.32M408.52 273.48L414.39 267.61M412.55 277.45L418.32 271.68M486.97 275.97L488.45 277.45M486.97 267.97L496.45 277.45M494.61 267.61L496.78 269.78M486.97 275.03L494.39 267.61M492.55 277.45L496.78 273.22M251.61 280.61L258.29 287.29M256.45 277.45L261.41 282.41M251.61 278.39L252.55 277.45M251.61 286.39L260.55 277.45M258.71 287.29L261.41 284.59M545.82 294.82L548.13 297.13M546.29 287.29L555.62 296.62M554.29 287.29L555.62 288.62M545.82 288.18L546.71 287.29M545.82 296.18L554.71 287.29M552.87 297.13L555.62 294.38M565.43 290.43L572.13 297.13M570.29 287.29L575.24 292.24M565.43 292.57L570.71 287.29M568.87 297.13L575.24 290.76M594.85 295.85L596.13 297.13M594.85 287.85L604.13 297.13M602.29 287.29L604.66 289.66M594.85 295.15L602.71 287.29M600.87 297.13L604.66 293.34M604.66 289.66L612.13 297.13M610.29 287.29L614.46 291.46M604.66 293.34L610.71 287.29M608.87 297.13L614.46 291.54M241.80 302.80L245.96 306.96M244.13 297.13L251.60 304.61M241.80 304.20L248.87 297.13M247.04 306.96L251.60 302.39M251.61 328.61L259.48 336.48M257.64 326.64L261.41 330.41M251.61 334.39L259.36 326.64M257.52 336.48L261.41 332.59M506.59 335.59L507.48 336.48M506.59 327.59L515.48 336.48M513.64 326.64L516.39 329.39M506.59 327.41L507.36 326.64M506.59 335.41L515.36 326.64M513.52 336.48L516.39 333.61M330.06 423.06L332.02 425.02M330.18 415.18L339.87 424.87M338.18 415.18L339.87 416.87M330.06 415.94L330.82 415.18M330.06 423.94L338.82 415.18M336.98 425.02L339.87 422.13M437.94 426.94L445.86 434.86M444.02 425.02L447.75 428.75M437.94 428.06L440.98 425.02M439.14 434.86L447.75 426.25M447.14 434.86L447.75 434.25M428.13 441.13L431.70 444.70M429.86 434.86L437.94 442.94M437.86 434.86L437.94 434.94M428.13 437.87L431.14 434.86M429.30 444.70L437.94 436.06M437.30 444.70L437.94 444.06M290.83 447.83L297.53 454.53M295.70 444.70L300.64 449.64M290.83 447.17L293.30 444.70M291.47 454.53L300.64 445.36M299.47 454.53L300.64 453.36" stroke="#ff00ff" stroke-width="1" fill="none"/>
<g shape-rendering="crispEdges">
<path d="M231.49 287.29H624.77M172.65 208.58H673.81M251.11 316.80H516.89M113.81 110.20H438.44M162.84 218.42H664.00M104.00 139.72H683.61M260.91 356.15H497.28M221.68 277.45H624.77M143.23 61.01H340.37M162.84 247.94H664.00M104.00 169.23H683.61M104.00 179.07H683.61M113.81 100.37H409.02M153.03 238.10H664.00M251.11 434.86H448.25M309.95 464.37H350.18M113.81 129.88H507.09M260.91 395.51H467.86M192.26 198.75H673.81M251.11 425.02H448.25M104.00 159.39H683.61M241.30 306.96H624.77M113.81 90.53H389.40M162.84 51.18H281.53M211.88 267.61H634.58M104.00 188.91H673.81M133.42 80.69H379.60M113.81 120.04H448.25M153.03 228.26H664.00M104.00 149.56H683.61M260.91 346.32H507.09M202.07 257.77H654.19M270.72 375.83H477.67M270.72 385.67H467.86M251.11 336.48H516.89M231.49 297.13H624.77M290.33 454.53H359.98M251.11 415.18H458.05M251.11 326.64H516.89M133.42 70.85H369.79M172.65 41.34H261.91M251.11 444.70H399.21M427.63 444.70H438.44M251.11 405.34H458.05M270.72 365.99H487.47M202.07 31.50H261.91M329.56 474.21H340.37M310.45 60.51V464.87M271.22 50.68V445.20M673.31 139.22V209.08M418.32 109.70V435.36M192.76 40.84V189.41M192.76 198.25V248.44M281.03 50.68V445.20M241.80 31.00V307.46M477.17 129.38V376.33M437.94 109.70V445.20M251.61 31.00V336.98M251.61 404.84V445.20M379.10 80.19V445.20M339.87 60.51V474.71M349.68 70.35V464.87M398.71 99.87V445.20M506.59 129.38V346.82M290.83 60.51V455.03M408.52 99.87V435.36M114.31 90.03V189.41M565.43 139.22V307.46M467.36 129.38V396.01M124.11 90.03V189.41M173.15 40.84V189.41M173.15 208.08V248.44M575.24 139.22V307.46M320.25 60.51V464.87M143.73 60.51V189.41M182.96 40.84V189.41M182.96 208.08V248.44M634.08 139.22V268.11M153.53 60.51V189.41M153.53 227.76V238.60M643.88 139.22V258.27M212.38 31.00V268.11M447.75 119.54V435.36M369.29 70.35V445.20M536.01 139.22V307.46M624.27 139.22V277.95M624.27 286.79V307.46M545.82 139.22V307.46M594.85 139.22V307.46M653.69 139.22V258.27M663.50 139.22V248.44M526.20 139.22V307.46M496.78 129.38V356.65M555.62 139.22V307.46M300.64 60.51V455.03M604.66 139.22V307.46M222.18 31.00V277.95M457.55 129.38V415.68M683.11 139.22V179.57M428.13 109.70V445.20M486.97 129.38V366.49M614.46 139.22V307.46M231.99 31.00V297.63M359.48 70.35V455.03M585.04 139.22V307.46M202.57 31.00V189.41M202.57 198.25V258.27M330.06 60.51V474.71M388.90 90.03V445.20M516.39 139.22V336.98M133.92 70.35V189.41M261.41 31.00V356.65M261.41 395.01V445.20M163.34 50.68V189.41M163.34 217.92V248.44M104.50 139.22V189.41" stroke="#000" stroke-width="1" fill="none"/>
</g>
<path d="M125.1 130.0L127.6 120.0L133.1 102.1L138.5 96.7L163.4 75.9L182.1 75.9L183.0 63.8L193.6 58.5L215.0 45.1L223.9 42.8L242.5 41.3L244.2 45.7L251.4 50.1L267.4 66.1L274.5 75.0L283.4 78.6L292.3 80.4L306.5 79.1L313.6 77.7L326.0 77.3L331.4 80.4L345.7 87.5L358.1 94.6L370.0 101.7L376.0 105.5L376.9 113.5L391.1 113.5L401.8 125.0L428.5 125.0L441.0 135.7L443.6 141.9L463.2 142.8L487.2 143.7L489.0 147.3L498.9 147.0L506.0 152.0L521.1 159.4L702.2 159.5L708.1 154.9L733.0 153.0L776.0 150.9M125.1 130.0L121.4 139.6L118.7 155.6L117.8 176.0L208.5 176.0L222.8 185.8L230.8 193.0L231.7 206.3L210.5 206.3L211.6 217.8L213.4 228.5L187.6 221.4L169.8 237.9L181.4 236.5L192.0 237.4L206.3 244.5L218.7 255.2L231.2 269.4L239.2 280.1L246.2 296.9L276.5 296.9L281.8 302.2L291.6 301.4L291.6 311.5L252.5 312.0L253.3 314.7L260.5 328.0L265.8 338.7L269.4 347.6L274.7 361.9L276.5 370.7L279.1 372.5L279.1 394.9L270.2 401.1L263.1 407.4L259.6 416.3L258.7 419.8L261.4 425.2L266.7 432.3L268.5 441.2L275.6 442.1L286.3 440.3L296.9 443.0L307.6 450.1L318.3 456.3L331.6 463.4L333.4 457.2L338.8 451.0L342.3 446.5L341.4 435.8L337.0 428.7L334.3 416.3L332.5 408.3L339.6 407.4L341.4 418.9L353.9 418.0L364.6 416.3L371.7 411.8L375.3 411.0L381.6 414.9L382.5 422.0L393.1 422.9L405.6 424.7L419.8 430.0L430.5 437.2L439.4 441.6L446.5 440.7L451.0 444.3L452.7 451.4L462.5 461.2L471.4 470.1L480.3 480.7L487.4 491.0" stroke="#000" stroke-width="3.2" fill="none" stroke-linejoin="round"/>
<path d="M684.4 131.9L681.7 143.1L676.0 161.0L671.3 179.9L664.1 198.9L657.2 218.7L650.7 238.8L650.5 249.0L628.8 249.1L628.8 256.2L625.5 261.4L615.8 262.7L613.4 272.0L607.4 282.4L613.4 289.2L614.2 297.3L617.0 300.5L510.5 300.5L511.2 322.0L505.5 332.6L490.4 345.0L477.0 354.0L466.4 369.0L461.0 386.8L449.5 398.3L446.5 421.1L434.0 434.5M617.0 300.5L623.9 303.0L631.2 311.0L677.7 348.0" stroke="#000" stroke-width="2.1" fill="none" stroke-dasharray="11 7"/>
<rect x="773.2" y="357.5" width="2.3" height="29.3" fill="#000"/>
<path d="M740.7 491.0L694.3 434.0L639.0 434.0L632.4 404.2L648.9 352.3L659.5 356.2L669.5 351.3L679.4 353.6L689.3 348.0L699.3 345.6L730.0 377.0L738.0 384.2L747.8 392.2L762.0 406.4L775.5 422.4" stroke="#000" stroke-width="3.0" fill="none" stroke-linejoin="round"/>
<text x="207.6" y="29.1" class="lb">25</text>
<text x="226.6" y="29.1" class="lb">28</text>
<text x="246.5" y="29.1" class="lb">30</text>
<text x="187.4" y="38.9" class="lb">24</text>
<text x="148.5" y="59.4" class="lb">20</text>
<text x="128.0" y="79.3" class="lb">40</text>
<text x="108.6" y="108.4" class="lb">37</text>
<text x="108.6" y="128.3" class="lb">35</text>
<text x="99.7" y="148.6" class="lb">33</text>
<text x="99.7" y="167.3" class="lb">31</text>
<text x="98.9" y="187.5" class="lb">29</text>
<text x="119.4" y="197.3" class="lb">17</text>
<text x="139.6" y="197.3" class="lb">19</text>
<text x="158.7" y="197.3" class="lb">21</text>
<text x="178.5" y="197.3" class="lb">23</text>
<text x="276.5" y="49.3" class="lb">33</text>
<text x="295.3" y="58.5" class="lb">35</text>
<text x="314.4" y="58.5" class="lb">37</text>
<text x="334.5" y="58.5" class="lb">39</text>
<text x="353.8" y="68.2" class="lb">41</text>
<text x="403.1" y="97.9" class="lb">45</text>
<text x="422.0" y="107.3" class="lb">48</text>
<text x="462.5" y="127.1" class="lb">52</text>
<text x="482.2" y="127.1" class="lb">54</text>
<text x="501.5" y="127.1" class="lb">56</text>
<text x="520.3" y="137.3" class="lb">58</text>
<text x="540.7" y="137.3" class="lb">60</text>
<text x="560.3" y="137.3" class="lb">62</text>
<text x="580.8" y="137.3" class="lb">64</text>
<text x="600.4" y="137.3" class="lb">66</text>
<text x="619.0" y="137.3" class="lb">68</text>
<text x="639.8" y="138.6" class="lb">70</text>
<text x="658.7" y="139.1" class="lb">72</text>
<text x="677.5" y="139.1" class="lb">74</text>
<text x="688.3" y="168.2" class="lb">31</text>
<text x="678.4" y="197.2" class="lb">28</text>
<text x="668.5" y="227.6" class="lb">25</text>
<text x="668.5" y="246.4" class="lb">23</text>
<text x="629.9" y="295.9" class="lb">18</text>
<text x="549.2" y="315.1" class="lb">51</text>
<text x="569.6" y="315.1" class="lb">53</text>
<text x="588.6" y="315.1" class="lb">55</text>
<text x="609.0" y="315.1" class="lb">57</text>
<text x="520.6" y="324.1" class="lb">15</text>
<text x="148.7" y="235.7" class="lb">24</text>
<text x="168.9" y="255.9" class="lb">22</text>
<text x="187.7" y="255.9" class="lb">24</text>
<text x="227.0" y="294.1" class="lb">18</text>
<text x="245.8" y="323.9" class="lb">15</text>
<text x="257.2" y="353.7" class="lb">12</text>
<text x="265.5" y="383.5" class="lb">09</text>
<text x="246.3" y="411.8" class="lb">05</text>
<text x="255.0" y="442.0" class="lb">03</text>
<text x="295.6" y="461.1" class="lb">35</text>
<text x="334.6" y="480.3" class="lb">39</text>
<text x="373.6" y="452.5" class="lb">43</text>
<text x="412.0" y="441.9" class="lb">47</text>
<text x="432.2" y="450.9" class="lb">49</text>
<text x="451.9" y="432.1" class="lb">02</text>
<text x="472.0" y="393.4" class="lb">08</text>
<!-- frame -->
<rect x="11.5" y="13.5" width="764" height="477.5" fill="none" stroke="#000" stroke-width="1.2"/>
<!-- left legend -->
<line x1="13.8" y1="391.1" x2="57" y2="391.1" stroke="#000" stroke-width="3.2"/>
<text x="63.2" y="395.8" class="sr" font-size="12.9" textLength="162.8" lengthAdjust="spacingAndGlyphs">RELEASE AREA BOUNDARY</text>
<line x1="19.1" y1="425" x2="30.6" y2="425" stroke="#000" stroke-width="2.2"/>
<line x1="39" y1="425" x2="50.9" y2="425" stroke="#000" stroke-width="2.2"/>
<line x1="59.1" y1="425" x2="62.2" y2="425" stroke="#000" stroke-width="2.2"/>
<text x="67.8" y="429" class="sr" font-size="12.9" textLength="80.4" lengthAdjust="spacingAndGlyphs">COUNTY LINE</text>
<g clip-path="url(#hatchclip)" stroke="#ff00ff" stroke-width="0.8">
<line x1="-24" y1="445" x2="7" y2="476"/>
<line x1="-3" y1="445" x2="-34" y2="476"/>
<line x1="-16" y1="445" x2="15" y2="476"/>
<line x1="5" y1="445" x2="-26" y2="476"/>
<line x1="-8" y1="445" x2="23" y2="476"/>
<line x1="13" y1="445" x2="-18" y2="476"/>
<line x1="0" y1="445" x2="31" y2="476"/>
<line x1="21" y1="445" x2="-10" y2="476"/>
<line x1="8" y1="445" x2="39" y2="476"/>
<line x1="29" y1="445" x2="-2" y2="476"/>
<line x1="16" y1="445" x2="47" y2="476"/>
<line x1="37" y1="445" x2="6" y2="476"/>
<line x1="24" y1="445" x2="55" y2="476"/>
<line x1="45" y1="445" x2="14" y2="476"/>
<line x1="32" y1="445" x2="63" y2="476"/>
<line x1="53" y1="445" x2="22" y2="476"/>
<line x1="40" y1="445" x2="71" y2="476"/>
<line x1="61" y1="445" x2="30" y2="476"/>
<line x1="48" y1="445" x2="79" y2="476"/>
<line x1="69" y1="445" x2="38" y2="476"/>
<line x1="56" y1="445" x2="87" y2="476"/>
<line x1="77" y1="445" x2="46" y2="476"/>
<line x1="64" y1="445" x2="95" y2="476"/>
<line x1="85" y1="445" x2="54" y2="476"/>
</g>
<rect x="28.3" y="450.1" width="22.5" height="20.4" fill="none" stroke="#000" stroke-width="1.1"/>
<text x="63.2" y="457.9" class="sr" font-size="12.9" textLength="126.5" lengthAdjust="spacingAndGlyphs">NO AVAILABLE HOST</text>
<text x="63.2" y="471.8" class="sr" font-size="12.9" textLength="85.6" lengthAdjust="spacingAndGlyphs">YEAR - ROUND</text>
<!-- inset map -->
<path d="M20.7 520.0L29.2 523.5L41.6 525.7L43.4 527.1L46.1 525.7L61.3 524.6L67.0 527.5L71.8 533.2L77.5 534.8L73.4 538.8L75.8 546.9L74.2 551.8L79.1 556.6L84.7 556.6L84.7 550.2L92.0 551.8L100.1 553.4L103.3 555.8L107.4 561.5L114.6 565.5L121.1 571.2L125.0 572.8L129.8 579.2L137.1 584.9L141.2 589.7L141.5 592.0L20.7 592.0Z" fill="#00ffff"/>
<path d="M71.0 496.0L76.7 499.3L82.3 502.5L88.8 504.1L93.6 508.2L101.7 509.8L111.4 513.0L130.0 513.5L135.0 513.4L130.6 526.1L128.1 528.7L126.8 533.7L115.4 535.0L111.6 537.6L102.7 549.0L99.5 553.0L92.0 551.8L84.7 550.2L84.7 556.6L79.1 556.6L74.2 551.8L75.8 546.9L73.4 538.8L77.5 534.8L71.8 533.2L67.0 527.5L61.3 525.1L62.1 522.7L68.6 518.7L66.2 516.2L53.2 515.4L53.2 508.2L56.5 502.5Z" fill="#606060" stroke="#000" stroke-width="2.2" stroke-linejoin="round"/>
<path d="M125.0 512.7L154.1 512.7L158.9 507.3L176.7 516.2L179.1 525.9L167.0 525.9L163.8 534.8L149.2 542.9L149.2 546.9L166.2 558.2L171.8 569.5L168.6 570.4L155.7 561.5L140.3 540.5L131.5 541.3L128.2 546.9L129.0 552.6L137.9 555.8L145.2 562.3L146.0 576.0L142.8 578.4L141.2 591.0M100.1 553.4L103.3 555.8L107.4 561.5L114.6 565.5L121.1 571.2L125.0 572.8L129.8 579.2L137.1 584.9L141.2 589.7" fill="none" stroke="#000" stroke-width="2.2" stroke-linejoin="round"/>
<rect x="20.7" y="493.8" width="191.8" height="98.5" fill="none" stroke="#000" stroke-width="1.2"/>
<text x="94.5" y="501.5" class="ss" font-size="7.5" textLength="85.8" lengthAdjust="spacingAndGlyphs">PREVENTIVE RELEASE</text>
<text x="119.7" y="510.2" class="ss" font-size="7.5" textLength="21.5" lengthAdjust="spacingAndGlyphs">AREA</text>
<text x="72.1" y="606.6" class="sr" font-size="12.5" textLength="89.5" lengthAdjust="spacingAndGlyphs">AREA MAPPED</text>
<!-- titles -->
<text x="285.9" y="510.6" class="sr" font-size="19.8" textLength="220.8" lengthAdjust="spacingAndGlyphs">Medfly Preventive Release</text>
<text x="314.5" y="528.9" class="sr" font-size="19.2" textLength="167.4" lengthAdjust="spacingAndGlyphs">Sterile Fly Recovery</text>
<text x="300.8" y="547.6" class="sr" font-size="16.5" textLength="192.5" lengthAdjust="spacingAndGlyphs">Los Angeles County Area</text>
<text x="276.6" y="566.4" class="sr" font-size="17.5" textLength="71.1" lengthAdjust="spacingAndGlyphs">Cycle 149</text>
<text x="370" y="566.4" class="sr" font-size="17.5" textLength="144.6" lengthAdjust="spacingAndGlyphs">03/24/03 - 04/03/03</text>
<text x="215.7" y="582.2" class="sr" font-size="10.2" textLength="333.1" lengthAdjust="spacingAndGlyphs">NOTE: UNSHADED GRIDS EITHER HAVE NO SEASONALLY AVAILABLE</text>
<text x="256.9" y="592.4" class="sr" font-size="10.2" textLength="274.1" lengthAdjust="spacingAndGlyphs">HOST, OR THE TRAPS WERE NOT SERVICED THIS WEEK.</text>
<!-- right legend -->
<rect x="590" y="500" width="184.5" height="100" fill="none" stroke="#000" stroke-width="1.2"/>
<text x="600.1" y="513.2" class="ss" fill="#ff0000" font-size="10" textLength="145.3" lengthAdjust="spacingAndGlyphs">AVERAGE NUMBER OF FLIES</text>
<text x="599.5" y="525.8" class="ss" fill="#ff0000" font-size="10" textLength="148.4" lengthAdjust="spacingAndGlyphs">CAUGHT PER TRAP, PER DAY</text>
<rect x="616.4" y="535.7" width="10" height="9.4" fill="#ff0000" stroke="#000" stroke-width="1"/>
<rect x="616.4" y="548.5" width="10" height="9.4" fill="#ffff00" stroke="#000" stroke-width="1"/>
<rect x="616.4" y="561.1" width="10" height="9.6" fill="#55ffff" stroke="#000" stroke-width="1"/>
<rect x="616.4" y="573.7" width="10" height="9.6" fill="#00ff00" stroke="#000" stroke-width="1"/>
<g class="ss" fill="#0000ff" font-size="9.6">
<text x="635.7" y="545.1" textLength="65" lengthAdjust="spacingAndGlyphs">LESS THAN 1</text>
<text x="712.5" y="545.1" textLength="18.3" lengthAdjust="spacingAndGlyphs">(44)</text>
<text x="635.7" y="557.3" textLength="62" lengthAdjust="spacingAndGlyphs">&gt;= 1 AND &lt; 2</text>
<text x="712.5" y="557.3" textLength="18.3" lengthAdjust="spacingAndGlyphs">(73)</text>
<text x="635.7" y="569.7" textLength="58.9" lengthAdjust="spacingAndGlyphs">&gt;= 2 AND &lt;3</text>
<text x="707.8" y="569.7" textLength="24.4" lengthAdjust="spacingAndGlyphs">(263)</text>
<text x="635" y="581.9" textLength="57.2" lengthAdjust="spacingAndGlyphs">3 OR MORE</text>
<text x="707.8" y="581.9" textLength="24.4" lengthAdjust="spacingAndGlyphs">(694)</text>
</g>
</svg>
</body></html>
